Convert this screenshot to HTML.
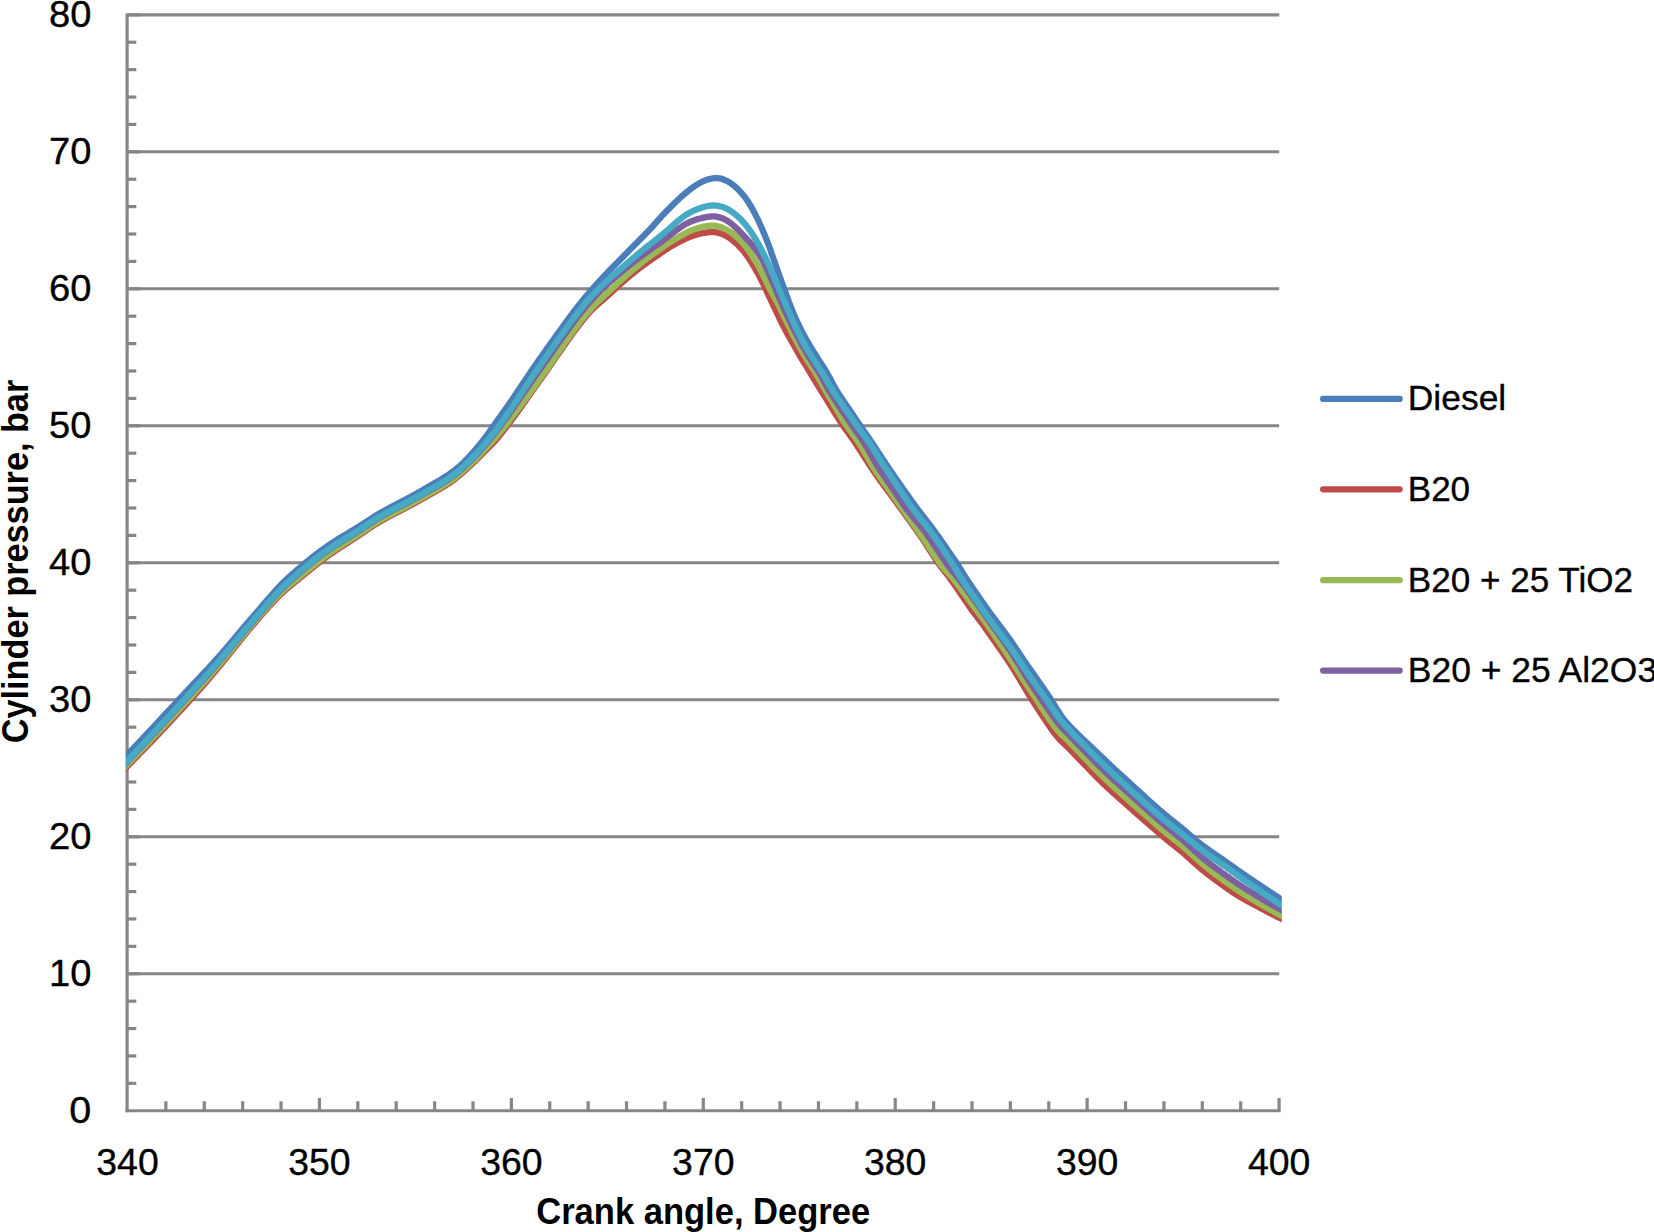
<!DOCTYPE html><html><head><meta charset="utf-8"><title>Cylinder pressure vs crank angle</title>
<style>html,body{margin:0;padding:0;background:#fff}svg{display:block}text{font-family:"Liberation Sans",sans-serif;fill:#000}text.r{stroke:#000;stroke-width:.35px}</style></head><body>
<svg width="1654" height="1232" viewBox="0 0 1654 1232">
<rect width="1654" height="1232" fill="#fff"/>
<defs><clipPath id="pc"><rect x="126" y="0" width="1155.8" height="1112"/></clipPath></defs>
<g stroke="#868686" stroke-width="3.1" fill="none"><line x1="127.1" y1="973.76" x2="1279.2" y2="973.76"/><line x1="127.1" y1="836.77" x2="1279.2" y2="836.77"/><line x1="127.1" y1="699.78" x2="1279.2" y2="699.78"/><line x1="127.1" y1="562.79" x2="1279.2" y2="562.79"/><line x1="127.1" y1="425.80" x2="1279.2" y2="425.80"/><line x1="127.1" y1="288.81" x2="1279.2" y2="288.81"/><line x1="127.1" y1="151.82" x2="1279.2" y2="151.82"/><line x1="127.1" y1="14.83" x2="1279.2" y2="14.83"/></g>
<g stroke="#868686" stroke-width="3.2" fill="none"><line x1="127.10" y1="13.38" x2="127.10" y2="1112.25"/><line x1="125.60" y1="1110.75" x2="1280.6" y2="1110.75"/><line x1="127.1" y1="1083.35" x2="136.3" y2="1083.35"/><line x1="127.1" y1="1055.95" x2="136.3" y2="1055.95"/><line x1="127.1" y1="1028.56" x2="136.3" y2="1028.56"/><line x1="127.1" y1="1001.16" x2="136.3" y2="1001.16"/><line x1="127.1" y1="973.76" x2="139.8" y2="973.76"/><line x1="127.1" y1="946.36" x2="136.3" y2="946.36"/><line x1="127.1" y1="918.96" x2="136.3" y2="918.96"/><line x1="127.1" y1="891.57" x2="136.3" y2="891.57"/><line x1="127.1" y1="864.17" x2="136.3" y2="864.17"/><line x1="127.1" y1="836.77" x2="139.8" y2="836.77"/><line x1="127.1" y1="809.37" x2="136.3" y2="809.37"/><line x1="127.1" y1="781.97" x2="136.3" y2="781.97"/><line x1="127.1" y1="754.58" x2="136.3" y2="754.58"/><line x1="127.1" y1="727.18" x2="136.3" y2="727.18"/><line x1="127.1" y1="699.78" x2="139.8" y2="699.78"/><line x1="127.1" y1="672.38" x2="136.3" y2="672.38"/><line x1="127.1" y1="644.98" x2="136.3" y2="644.98"/><line x1="127.1" y1="617.59" x2="136.3" y2="617.59"/><line x1="127.1" y1="590.19" x2="136.3" y2="590.19"/><line x1="127.1" y1="562.79" x2="139.8" y2="562.79"/><line x1="127.1" y1="535.39" x2="136.3" y2="535.39"/><line x1="127.1" y1="507.99" x2="136.3" y2="507.99"/><line x1="127.1" y1="480.60" x2="136.3" y2="480.60"/><line x1="127.1" y1="453.20" x2="136.3" y2="453.20"/><line x1="127.1" y1="425.80" x2="139.8" y2="425.80"/><line x1="127.1" y1="398.40" x2="136.3" y2="398.40"/><line x1="127.1" y1="371.00" x2="136.3" y2="371.00"/><line x1="127.1" y1="343.61" x2="136.3" y2="343.61"/><line x1="127.1" y1="316.21" x2="136.3" y2="316.21"/><line x1="127.1" y1="288.81" x2="139.8" y2="288.81"/><line x1="127.1" y1="261.41" x2="136.3" y2="261.41"/><line x1="127.1" y1="234.01" x2="136.3" y2="234.01"/><line x1="127.1" y1="206.62" x2="136.3" y2="206.62"/><line x1="127.1" y1="179.22" x2="136.3" y2="179.22"/><line x1="127.1" y1="151.82" x2="139.8" y2="151.82"/><line x1="127.1" y1="124.42" x2="136.3" y2="124.42"/><line x1="127.1" y1="97.02" x2="136.3" y2="97.02"/><line x1="127.1" y1="69.63" x2="136.3" y2="69.63"/><line x1="127.1" y1="42.23" x2="136.3" y2="42.23"/><line x1="127.1" y1="14.83" x2="139.8" y2="14.83"/><line x1="165.89" y1="1110.75" x2="165.89" y2="1101.25"/><line x1="204.27" y1="1110.75" x2="204.27" y2="1101.25"/><line x1="242.66" y1="1110.75" x2="242.66" y2="1101.25"/><line x1="281.04" y1="1110.75" x2="281.04" y2="1101.25"/><line x1="319.43" y1="1110.75" x2="319.43" y2="1098.05"/><line x1="357.82" y1="1110.75" x2="357.82" y2="1101.25"/><line x1="396.20" y1="1110.75" x2="396.20" y2="1101.25"/><line x1="434.59" y1="1110.75" x2="434.59" y2="1101.25"/><line x1="472.97" y1="1110.75" x2="472.97" y2="1101.25"/><line x1="511.36" y1="1110.75" x2="511.36" y2="1098.05"/><line x1="549.75" y1="1110.75" x2="549.75" y2="1101.25"/><line x1="588.13" y1="1110.75" x2="588.13" y2="1101.25"/><line x1="626.52" y1="1110.75" x2="626.52" y2="1101.25"/><line x1="664.90" y1="1110.75" x2="664.90" y2="1101.25"/><line x1="703.29" y1="1110.75" x2="703.29" y2="1098.05"/><line x1="741.68" y1="1110.75" x2="741.68" y2="1101.25"/><line x1="780.06" y1="1110.75" x2="780.06" y2="1101.25"/><line x1="818.45" y1="1110.75" x2="818.45" y2="1101.25"/><line x1="856.83" y1="1110.75" x2="856.83" y2="1101.25"/><line x1="895.22" y1="1110.75" x2="895.22" y2="1098.05"/><line x1="933.61" y1="1110.75" x2="933.61" y2="1101.25"/><line x1="971.99" y1="1110.75" x2="971.99" y2="1101.25"/><line x1="1010.38" y1="1110.75" x2="1010.38" y2="1101.25"/><line x1="1048.76" y1="1110.75" x2="1048.76" y2="1101.25"/><line x1="1087.15" y1="1110.75" x2="1087.15" y2="1098.05"/><line x1="1125.54" y1="1110.75" x2="1125.54" y2="1101.25"/><line x1="1163.92" y1="1110.75" x2="1163.92" y2="1101.25"/><line x1="1202.31" y1="1110.75" x2="1202.31" y2="1101.25"/><line x1="1240.69" y1="1110.75" x2="1240.69" y2="1101.25"/><line x1="1279.08" y1="1110.75" x2="1279.08" y2="1098.05"/></g>
<g clip-path="url(#pc)" fill="none" stroke-width="6.3" stroke-linejoin="round" stroke-linecap="butt"><path d="M121.2 761.6 L122.4 760.3 L123.5 759.1 L124.7 757.8 L125.8 756.6 L127.0 755.3 L128.2 754.1 L129.3 752.8 L130.5 751.6 L131.6 750.3 L132.8 749.1 L133.9 747.8 L135.1 746.6 L136.2 745.4 L137.4 744.1 L138.5 742.9 L139.7 741.7 L140.8 740.4 L142.0 739.2 L143.1 738.0 L144.3 736.7 L145.5 735.5 L146.6 734.3 L147.8 733.1 L148.9 731.8 L150.1 730.6 L151.2 729.4 L152.4 728.1 L153.5 726.9 L154.7 725.7 L155.8 724.4 L157.0 723.2 L158.1 722.0 L159.3 720.8 L160.4 719.5 L161.6 718.3 L162.7 717.0 L163.9 715.8 L165.1 714.6 L166.2 713.3 L167.4 712.1 L168.5 710.8 L169.7 709.6 L170.8 708.4 L172.0 707.1 L173.1 705.9 L174.3 704.6 L175.4 703.4 L176.6 702.1 L177.7 700.9 L178.9 699.6 L180.0 698.4 L181.2 697.1 L182.4 695.9 L183.5 694.7 L184.7 693.4 L185.8 692.2 L187.0 690.9 L188.1 689.7 L189.3 688.5 L190.4 687.3 L191.6 686.0 L192.7 684.8 L193.9 683.6 L195.0 682.4 L196.2 681.2 L197.3 679.9 L198.5 678.7 L199.7 677.5 L200.8 676.3 L202.0 675.1 L203.1 673.8 L204.3 672.6 L205.4 671.4 L206.6 670.1 L207.7 668.9 L208.9 667.7 L210.0 666.4 L211.2 665.1 L212.3 663.9 L213.5 662.6 L214.6 661.3 L215.8 660.1 L216.9 658.8 L218.1 657.5 L219.3 656.2 L220.4 654.9 L221.6 653.6 L222.7 652.2 L223.9 650.9 L225.0 649.6 L226.2 648.2 L227.3 646.9 L228.5 645.5 L229.6 644.1 L230.8 642.8 L231.9 641.4 L233.1 640.0 L234.2 638.7 L235.4 637.3 L236.6 635.9 L237.7 634.5 L238.9 633.2 L240.0 631.8 L241.2 630.4 L242.3 629.1 L243.5 627.7 L244.6 626.4 L245.8 625.0 L246.9 623.7 L248.1 622.4 L249.2 621.0 L250.4 619.7 L251.5 618.3 L252.7 617.0 L253.9 615.7 L255.0 614.3 L256.2 613.0 L257.3 611.6 L258.5 610.3 L259.6 609.0 L260.8 607.6 L261.9 606.3 L263.1 604.9 L264.2 603.6 L265.4 602.2 L266.5 600.9 L267.7 599.5 L268.8 598.2 L270.0 596.9 L271.2 595.6 L272.3 594.3 L273.5 593.0 L274.6 591.7 L275.8 590.4 L276.9 589.1 L278.1 587.9 L279.2 586.7 L280.4 585.5 L281.5 584.3 L282.7 583.1 L283.8 582.0 L285.0 580.9 L286.1 579.8 L287.3 578.7 L288.4 577.6 L289.6 576.6 L290.8 575.6 L291.9 574.5 L293.1 573.5 L294.2 572.5 L295.4 571.5 L296.5 570.5 L297.7 569.5 L298.8 568.5 L300.0 567.6 L301.1 566.6 L302.3 565.6 L303.4 564.6 L304.6 563.7 L305.7 562.7 L306.9 561.7 L308.1 560.8 L309.2 559.8 L310.4 558.9 L311.5 558.0 L312.7 557.0 L313.8 556.1 L315.0 555.2 L316.1 554.3 L317.3 553.4 L318.4 552.6 L319.6 551.7 L320.7 550.8 L321.9 550.0 L323.0 549.2 L324.2 548.3 L325.4 547.5 L326.5 546.7 L327.7 545.9 L328.8 545.1 L330.0 544.4 L331.1 543.6 L332.3 542.8 L333.4 542.1 L334.6 541.3 L335.7 540.6 L336.9 539.9 L338.0 539.1 L339.2 538.4 L340.3 537.7 L341.5 537.0 L342.6 536.3 L343.8 535.6 L345.0 534.9 L346.1 534.3 L347.3 533.6 L348.4 532.9 L349.6 532.2 L350.7 531.5 L351.9 530.8 L353.0 530.1 L354.2 529.4 L355.3 528.7 L356.5 528.0 L357.6 527.3 L358.8 526.5 L359.9 525.8 L361.1 525.1 L362.3 524.3 L363.4 523.6 L364.6 522.8 L365.7 522.1 L366.9 521.3 L368.0 520.6 L369.2 519.8 L370.3 519.1 L371.5 518.3 L372.6 517.6 L373.8 516.9 L374.9 516.1 L376.1 515.4 L377.2 514.7 L378.4 514.0 L379.6 513.4 L380.7 512.7 L381.9 512.0 L383.0 511.4 L384.2 510.7 L385.3 510.1 L386.5 509.5 L387.6 508.9 L388.8 508.2 L389.9 507.6 L391.1 507.0 L392.2 506.4 L393.4 505.8 L394.5 505.2 L395.7 504.6 L396.8 504.0 L398.0 503.4 L399.2 502.8 L400.3 502.2 L401.5 501.6 L402.6 501.0 L403.8 500.4 L404.9 499.8 L406.1 499.2 L407.2 498.6 L408.4 497.9 L409.5 497.3 L410.7 496.7 L411.8 496.1 L413.0 495.5 L414.1 494.8 L415.3 494.2 L416.5 493.6 L417.6 492.9 L418.8 492.3 L419.9 491.6 L421.1 491.0 L422.2 490.3 L423.4 489.7 L424.5 489.0 L425.7 488.3 L426.8 487.7 L428.0 487.0 L429.1 486.3 L430.3 485.7 L431.4 485.0 L432.6 484.3 L433.8 483.7 L434.9 483.0 L436.1 482.3 L437.2 481.7 L438.4 481.0 L439.5 480.3 L440.7 479.6 L441.8 478.9 L443.0 478.2 L444.1 477.5 L445.3 476.8 L446.4 476.1 L447.6 475.3 L448.7 474.5 L449.9 473.8 L451.0 472.9 L452.2 472.1 L453.4 471.2 L454.5 470.4 L455.7 469.4 L456.8 468.5 L458.0 467.5 L459.1 466.6 L460.3 465.6 L461.4 464.5 L462.6 463.4 L463.7 462.3 L464.9 461.2 L466.0 460.0 L467.2 458.8 L468.3 457.6 L469.5 456.4 L470.7 455.1 L471.8 453.8 L473.0 452.5 L474.1 451.2 L475.3 449.9 L476.4 448.5 L477.6 447.2 L478.7 445.8 L479.9 444.4 L481.0 443.0 L482.2 441.5 L483.3 440.0 L484.5 438.5 L485.6 437.0 L486.8 435.4 L488.0 433.8 L489.1 432.2 L490.3 430.6 L491.4 428.9 L492.6 427.3 L493.7 425.7 L494.9 424.0 L496.0 422.4 L497.2 420.8 L498.3 419.2 L499.5 417.6 L500.6 416.1 L501.8 414.5 L502.9 412.8 L504.1 411.2 L505.2 409.6 L506.4 408.0 L507.6 406.3 L508.7 404.6 L509.9 403.0 L511.0 401.3 L512.2 399.6 L513.3 397.9 L514.5 396.2 L515.6 394.5 L516.8 392.7 L517.9 391.0 L519.1 389.3 L520.2 387.6 L521.4 385.8 L522.5 384.1 L523.7 382.4 L524.9 380.7 L526.0 378.9 L527.2 377.2 L528.3 375.5 L529.5 373.8 L530.6 372.1 L531.8 370.4 L532.9 368.7 L534.1 367.1 L535.2 365.4 L536.4 363.7 L537.5 362.1 L538.7 360.4 L539.8 358.8 L541.0 357.2 L542.2 355.5 L543.3 353.9 L544.5 352.3 L545.6 350.6 L546.8 349.0 L547.9 347.4 L549.1 345.8 L550.2 344.1 L551.4 342.5 L552.5 340.9 L553.7 339.3 L554.8 337.7 L556.0 336.1 L557.1 334.5 L558.3 332.9 L559.5 331.3 L560.6 329.7 L561.8 328.1 L562.9 326.5 L564.1 324.9 L565.2 323.3 L566.4 321.7 L567.5 320.2 L568.7 318.6 L569.8 317.1 L571.0 315.5 L572.1 314.0 L573.3 312.4 L574.4 310.9 L575.6 309.4 L576.7 307.9 L577.9 306.4 L579.1 305.0 L580.2 303.5 L581.4 302.1 L582.5 300.6 L583.7 299.2 L584.8 297.8 L586.0 296.5 L587.1 295.1 L588.3 293.8 L589.4 292.5 L590.6 291.2 L591.7 289.8 L592.9 288.5 L594.0 287.2 L595.2 285.9 L596.4 284.6 L597.5 283.3 L598.7 282.0 L599.8 280.8 L601.0 279.5 L602.1 278.3 L603.3 277.0 L604.4 275.8 L605.6 274.6 L606.7 273.4 L607.9 272.2 L609.0 271.0 L610.2 269.8 L611.3 268.6 L612.5 267.4 L613.7 266.3 L614.8 265.1 L616.0 263.9 L617.1 262.7 L618.3 261.6 L619.4 260.4 L620.6 259.2 L621.7 258.1 L622.9 256.9 L624.0 255.7 L625.2 254.5 L626.3 253.4 L627.5 252.2 L628.6 251.0 L629.8 249.9 L630.9 248.7 L632.1 247.5 L633.3 246.4 L634.4 245.2 L635.6 244.0 L636.7 242.9 L637.9 241.7 L639.0 240.5 L640.2 239.4 L641.3 238.2 L642.5 237.0 L643.6 235.9 L644.8 234.7 L645.9 233.5 L647.1 232.3 L648.2 231.1 L649.4 229.9 L650.6 228.7 L651.7 227.4 L652.9 226.1 L654.0 224.8 L655.2 223.5 L656.3 222.2 L657.5 220.9 L658.6 219.6 L659.8 218.4 L660.9 217.1 L662.1 215.8 L663.2 214.6 L664.4 213.4 L665.5 212.2 L666.7 211.0 L667.9 209.8 L669.0 208.7 L670.2 207.5 L671.3 206.3 L672.5 205.2 L673.6 204.0 L674.8 202.9 L675.9 201.8 L677.1 200.7 L678.2 199.6 L679.4 198.5 L680.5 197.5 L681.7 196.4 L682.8 195.4 L684.0 194.4 L685.1 193.4 L686.3 192.5 L687.5 191.5 L688.6 190.6 L689.8 189.7 L690.9 188.8 L692.1 188.0 L693.2 187.1 L694.4 186.3 L695.5 185.5 L696.7 184.8 L697.8 184.1 L699.0 183.4 L700.1 182.8 L701.3 182.2 L702.4 181.6 L703.6 181.1 L704.8 180.6 L705.9 180.2 L707.1 179.7 L708.2 179.4 L709.4 179.0 L710.5 178.8 L711.7 178.5 L712.8 178.3 L714.0 178.2 L715.1 178.1 L716.3 178.1 L717.4 178.2 L718.6 178.3 L719.7 178.4 L720.9 178.6 L722.1 178.9 L723.2 179.3 L724.4 179.8 L725.5 180.3 L726.7 180.8 L727.8 181.4 L729.0 182.1 L730.1 182.9 L731.3 183.6 L732.4 184.5 L733.6 185.4 L734.7 186.3 L735.9 187.4 L737.0 188.4 L738.2 189.5 L739.3 190.7 L740.5 192.0 L741.7 193.2 L742.8 194.6 L744.0 196.0 L745.1 197.5 L746.3 199.1 L747.4 200.8 L748.6 202.6 L749.7 204.4 L750.9 206.3 L752.0 208.3 L753.2 210.4 L754.3 212.5 L755.5 214.8 L756.6 217.1 L757.8 219.4 L759.0 221.9 L760.1 224.4 L761.3 227.0 L762.4 229.6 L763.6 232.4 L764.7 235.1 L765.9 238.0 L767.0 240.9 L768.2 243.9 L769.3 247.0 L770.5 250.2 L771.6 253.5 L772.8 256.8 L773.9 260.1 L775.1 263.4 L776.3 266.7 L777.4 270.0 L778.6 273.2 L779.7 276.5 L780.9 279.7 L782.0 282.9 L783.2 286.1 L784.3 289.3 L785.5 292.5 L786.6 295.6 L787.8 298.7 L788.9 301.8 L790.1 304.8 L791.2 307.8 L792.4 310.7 L793.5 313.5 L794.7 316.3 L795.9 318.9 L797.0 321.4 L798.2 323.9 L799.3 326.3 L800.5 328.6 L801.6 330.9 L802.8 333.1 L803.9 335.3 L805.1 337.4 L806.2 339.4 L807.4 341.5 L808.5 343.4 L809.7 345.4 L810.8 347.3 L812.0 349.2 L813.2 351.1 L814.3 352.9 L815.5 354.8 L816.6 356.6 L817.8 358.4 L818.9 360.2 L820.1 362.0 L821.2 363.8 L822.4 365.6 L823.5 367.3 L824.7 369.1 L825.8 371.0 L827.0 372.9 L828.1 374.9 L829.3 377.0 L830.5 379.2 L831.6 381.4 L832.8 383.6 L833.9 385.8 L835.1 387.9 L836.2 389.9 L837.4 391.8 L838.5 393.5 L839.7 395.2 L840.8 397.0 L842.0 398.7 L843.1 400.4 L844.3 402.1 L845.4 403.8 L846.6 405.5 L847.8 407.2 L848.9 408.9 L850.1 410.6 L851.2 412.3 L852.4 414.0 L853.5 415.7 L854.7 417.4 L855.8 419.2 L857.0 420.9 L858.1 422.6 L859.3 424.3 L860.4 426.0 L861.6 427.7 L862.7 429.3 L863.9 431.0 L865.0 432.6 L866.2 434.3 L867.4 435.9 L868.5 437.6 L869.7 439.3 L870.8 441.0 L872.0 442.7 L873.1 444.4 L874.3 446.2 L875.4 447.9 L876.6 449.7 L877.7 451.4 L878.9 453.2 L880.0 454.9 L881.2 456.7 L882.3 458.5 L883.5 460.2 L884.7 462.0 L885.8 463.7 L887.0 465.4 L888.1 467.2 L889.3 468.9 L890.4 470.6 L891.6 472.3 L892.7 474.0 L893.9 475.6 L895.0 477.3 L896.2 479.0 L897.3 480.6 L898.5 482.3 L899.6 484.0 L900.8 485.6 L902.0 487.3 L903.1 488.9 L904.3 490.5 L905.4 492.2 L906.6 493.8 L907.7 495.4 L908.9 497.1 L910.0 498.7 L911.2 500.3 L912.3 501.9 L913.5 503.5 L914.6 505.1 L915.8 506.7 L916.9 508.2 L918.1 509.8 L919.2 511.3 L920.4 512.8 L921.6 514.3 L922.7 515.8 L923.9 517.2 L925.0 518.7 L926.2 520.2 L927.3 521.7 L928.5 523.2 L929.6 524.7 L930.8 526.2 L931.9 527.7 L933.1 529.3 L934.2 530.9 L935.4 532.4 L936.5 534.0 L937.7 535.7 L938.9 537.3 L940.0 539.0 L941.2 540.6 L942.3 542.3 L943.5 543.9 L944.6 545.6 L945.8 547.2 L946.9 548.9 L948.1 550.6 L949.2 552.2 L950.4 553.9 L951.5 555.6 L952.7 557.3 L953.8 559.0 L955.0 560.6 L956.2 562.3 L957.3 564.0 L958.5 565.8 L959.6 567.7 L960.8 569.6 L961.9 571.5 L963.1 573.4 L964.2 575.3 L965.4 577.1 L966.5 578.9 L967.7 580.6 L968.8 582.3 L970.0 584.0 L971.1 585.7 L972.3 587.4 L973.4 589.1 L974.6 590.8 L975.8 592.5 L976.9 594.1 L978.1 595.8 L979.2 597.5 L980.4 599.1 L981.5 600.8 L982.7 602.5 L983.8 604.1 L985.0 605.8 L986.1 607.4 L987.3 609.0 L988.4 610.6 L989.6 612.2 L990.7 613.8 L991.9 615.4 L993.1 617.0 L994.2 618.5 L995.4 620.0 L996.5 621.6 L997.7 623.1 L998.8 624.6 L1000.0 626.2 L1001.1 627.7 L1002.3 629.2 L1003.4 630.7 L1004.6 632.3 L1005.7 633.9 L1006.9 635.4 L1008.0 637.0 L1009.2 638.6 L1010.4 640.2 L1011.5 641.9 L1012.7 643.6 L1013.8 645.2 L1015.0 647.0 L1016.1 648.7 L1017.3 650.4 L1018.4 652.1 L1019.6 653.8 L1020.7 655.5 L1021.9 657.2 L1023.0 659.0 L1024.2 660.7 L1025.3 662.4 L1026.5 664.1 L1027.6 665.8 L1028.8 667.4 L1030.0 669.1 L1031.1 670.7 L1032.3 672.4 L1033.4 674.0 L1034.6 675.6 L1035.7 677.3 L1036.9 678.9 L1038.0 680.5 L1039.2 682.2 L1040.3 683.8 L1041.5 685.5 L1042.6 687.1 L1043.8 688.8 L1044.9 690.5 L1046.1 692.2 L1047.3 693.9 L1048.4 695.6 L1049.6 697.4 L1050.7 699.2 L1051.9 701.0 L1053.0 702.9 L1054.2 704.7 L1055.3 706.6 L1056.5 708.5 L1057.6 710.3 L1058.8 712.1 L1059.9 713.8 L1061.1 715.5 L1062.2 717.1 L1063.4 718.6 L1064.6 720.1 L1065.7 721.5 L1066.9 722.9 L1068.0 724.2 L1069.2 725.4 L1070.3 726.7 L1071.5 727.9 L1072.6 729.1 L1073.8 730.2 L1074.9 731.4 L1076.1 732.5 L1077.2 733.7 L1078.4 734.8 L1079.5 735.9 L1080.7 737.0 L1081.8 738.1 L1083.0 739.2 L1084.2 740.3 L1085.3 741.4 L1086.5 742.4 L1087.6 743.5 L1088.8 744.6 L1089.9 745.7 L1091.1 746.8 L1092.2 747.9 L1093.4 749.0 L1094.5 750.1 L1095.7 751.2 L1096.8 752.3 L1098.0 753.4 L1099.1 754.5 L1100.3 755.6 L1101.5 756.7 L1102.6 757.8 L1103.8 758.9 L1104.9 760.0 L1106.1 761.1 L1107.2 762.2 L1108.4 763.3 L1109.5 764.4 L1110.7 765.5 L1111.8 766.5 L1113.0 767.6 L1114.1 768.7 L1115.3 769.8 L1116.4 770.8 L1117.6 771.9 L1118.8 773.0 L1119.9 774.0 L1121.1 775.1 L1122.2 776.1 L1123.4 777.2 L1124.5 778.2 L1125.7 779.3 L1126.8 780.3 L1128.0 781.4 L1129.1 782.4 L1130.3 783.5 L1131.4 784.5 L1132.6 785.6 L1133.7 786.6 L1134.9 787.7 L1136.1 788.8 L1137.2 789.8 L1138.4 790.9 L1139.5 791.9 L1140.7 793.0 L1141.8 794.0 L1143.0 795.1 L1144.1 796.1 L1145.3 797.2 L1146.4 798.3 L1147.6 799.3 L1148.7 800.4 L1149.9 801.4 L1151.0 802.5 L1152.2 803.5 L1153.3 804.5 L1154.5 805.5 L1155.7 806.6 L1156.8 807.6 L1158.0 808.6 L1159.1 809.6 L1160.3 810.6 L1161.4 811.6 L1162.6 812.5 L1163.7 813.5 L1164.9 814.5 L1166.0 815.4 L1167.2 816.4 L1168.3 817.3 L1169.5 818.2 L1170.6 819.2 L1171.8 820.1 L1173.0 821.0 L1174.1 821.9 L1175.3 822.9 L1176.4 823.8 L1177.6 824.7 L1178.7 825.6 L1179.9 826.6 L1181.0 827.5 L1182.2 828.5 L1183.3 829.4 L1184.5 830.4 L1185.6 831.4 L1186.8 832.4 L1187.9 833.4 L1189.1 834.4 L1190.3 835.4 L1191.4 836.4 L1192.6 837.4 L1193.7 838.4 L1194.9 839.3 L1196.0 840.2 L1197.2 841.2 L1198.3 842.1 L1199.5 843.0 L1200.6 843.9 L1201.8 844.8 L1202.9 845.7 L1204.1 846.6 L1205.2 847.4 L1206.4 848.2 L1207.5 849.1 L1208.7 849.9 L1209.9 850.7 L1211.0 851.5 L1212.2 852.3 L1213.3 853.1 L1214.5 853.9 L1215.6 854.7 L1216.8 855.5 L1217.9 856.2 L1219.1 857.0 L1220.2 857.8 L1221.4 858.6 L1222.5 859.4 L1223.7 860.2 L1224.8 861.0 L1226.0 861.8 L1227.2 862.6 L1228.3 863.5 L1229.5 864.3 L1230.6 865.1 L1231.8 865.9 L1232.9 866.7 L1234.1 867.6 L1235.2 868.4 L1236.4 869.2 L1237.5 870.0 L1238.7 870.8 L1239.8 871.6 L1241.0 872.4 L1242.1 873.2 L1243.3 874.0 L1244.5 874.8 L1245.6 875.6 L1246.8 876.4 L1247.9 877.2 L1249.1 878.0 L1250.2 878.8 L1251.4 879.5 L1252.5 880.3 L1253.7 881.1 L1254.8 881.9 L1256.0 882.6 L1257.1 883.4 L1258.3 884.2 L1259.4 884.9 L1260.6 885.7 L1261.7 886.5 L1262.9 887.2 L1264.1 888.0 L1265.2 888.8 L1266.4 889.5 L1267.5 890.3 L1268.7 891.1 L1269.8 891.8 L1271.0 892.6 L1272.1 893.4 L1273.3 894.1 L1274.4 894.9 L1275.6 895.6 L1276.7 896.4 L1277.9 897.1 L1279.0 897.8 L1280.2 898.6 L1281.4 899.3 L1282.5 900.1 L1283.7 900.8 L1284.8 901.6 L1286.0 902.3 L1287.1 903.0 L1288.3 903.8" stroke="#4a7ebb"/><path d="M121.2 772.8 L122.4 771.6 L123.5 770.3 L124.7 769.1 L125.8 767.8 L127.0 766.5 L128.2 765.4 L129.3 764.2 L130.5 763.0 L131.6 761.9 L132.8 760.7 L133.9 759.5 L135.1 758.3 L136.2 757.2 L137.4 756.0 L138.5 754.8 L139.7 753.6 L140.8 752.4 L142.0 751.3 L143.1 750.1 L144.3 748.9 L145.5 747.7 L146.6 746.5 L147.8 745.3 L148.9 744.1 L150.1 742.9 L151.2 741.8 L152.4 740.6 L153.5 739.4 L154.7 738.2 L155.8 736.9 L157.0 735.7 L158.1 734.5 L159.3 733.3 L160.4 732.1 L161.6 730.9 L162.7 729.7 L163.9 728.4 L165.1 727.2 L166.2 726.0 L167.4 724.7 L168.5 723.5 L169.7 722.3 L170.8 721.0 L172.0 719.8 L173.1 718.5 L174.3 717.3 L175.4 716.0 L176.6 714.8 L177.7 713.5 L178.9 712.3 L180.0 711.0 L181.2 709.8 L182.4 708.5 L183.5 707.3 L184.7 706.0 L185.8 704.8 L187.0 703.5 L188.1 702.2 L189.3 701.0 L190.4 699.7 L191.6 698.4 L192.7 697.2 L193.9 695.9 L195.0 694.6 L196.2 693.3 L197.3 692.0 L198.5 690.7 L199.7 689.4 L200.8 688.1 L202.0 686.8 L203.1 685.5 L204.3 684.1 L205.4 682.8 L206.6 681.5 L207.7 680.1 L208.9 678.8 L210.0 677.4 L211.2 676.1 L212.3 674.7 L213.5 673.3 L214.6 672.0 L215.8 670.6 L216.9 669.2 L218.1 667.8 L219.3 666.4 L220.4 665.0 L221.6 663.6 L222.7 662.2 L223.9 660.8 L225.0 659.4 L226.2 658.0 L227.3 656.5 L228.5 655.1 L229.6 653.7 L230.8 652.3 L231.9 650.8 L233.1 649.4 L234.2 647.9 L235.4 646.5 L236.6 645.0 L237.7 643.6 L238.9 642.2 L240.0 640.7 L241.2 639.3 L242.3 637.9 L243.5 636.4 L244.6 635.0 L245.8 633.6 L246.9 632.2 L248.1 630.8 L249.2 629.4 L250.4 628.0 L251.5 626.7 L252.7 625.3 L253.9 623.9 L255.0 622.6 L256.2 621.2 L257.3 619.9 L258.5 618.5 L259.6 617.2 L260.8 615.9 L261.9 614.5 L263.1 613.2 L264.2 611.9 L265.4 610.6 L266.5 609.3 L267.7 608.0 L268.8 606.7 L270.0 605.4 L271.2 604.2 L272.3 602.9 L273.5 601.7 L274.6 600.5 L275.8 599.3 L276.9 598.1 L278.1 596.9 L279.2 595.8 L280.4 594.6 L281.5 593.5 L282.7 592.5 L283.8 591.4 L285.0 590.4 L286.1 589.3 L287.3 588.3 L288.4 587.3 L289.6 586.4 L290.8 585.4 L291.9 584.4 L293.1 583.5 L294.2 582.6 L295.4 581.6 L296.5 580.7 L297.7 579.8 L298.8 578.8 L300.0 577.9 L301.1 577.0 L302.3 576.0 L303.4 575.1 L304.6 574.2 L305.7 573.2 L306.9 572.3 L308.1 571.3 L309.2 570.4 L310.4 569.5 L311.5 568.5 L312.7 567.6 L313.8 566.7 L315.0 565.7 L316.1 564.8 L317.3 563.9 L318.4 563.0 L319.6 562.1 L320.7 561.2 L321.9 560.4 L323.0 559.5 L324.2 558.6 L325.4 557.8 L326.5 557.0 L327.7 556.1 L328.8 555.3 L330.0 554.5 L331.1 553.7 L332.3 552.9 L333.4 552.1 L334.6 551.3 L335.7 550.5 L336.9 549.7 L338.0 549.0 L339.2 548.2 L340.3 547.4 L341.5 546.7 L342.6 546.0 L343.8 545.2 L345.0 544.5 L346.1 543.7 L347.3 543.0 L348.4 542.3 L349.6 541.5 L350.7 540.8 L351.9 540.0 L353.0 539.3 L354.2 538.5 L355.3 537.8 L356.5 537.0 L357.6 536.3 L358.8 535.5 L359.9 534.7 L361.1 533.9 L362.3 533.1 L363.4 532.4 L364.6 531.6 L365.7 530.8 L366.9 530.0 L368.0 529.2 L369.2 528.4 L370.3 527.7 L371.5 526.9 L372.6 526.2 L373.8 525.4 L374.9 524.7 L376.1 523.9 L377.2 523.2 L378.4 522.5 L379.6 521.9 L380.7 521.2 L381.9 520.5 L383.0 519.9 L384.2 519.2 L385.3 518.6 L386.5 518.0 L387.6 517.3 L388.8 516.7 L389.9 516.1 L391.1 515.5 L392.2 514.9 L393.4 514.3 L394.5 513.7 L395.7 513.1 L396.8 512.5 L398.0 511.9 L399.2 511.3 L400.3 510.7 L401.5 510.1 L402.6 509.5 L403.8 508.9 L404.9 508.3 L406.1 507.7 L407.2 507.1 L408.4 506.5 L409.5 505.9 L410.7 505.3 L411.8 504.7 L413.0 504.0 L414.1 503.4 L415.3 502.8 L416.5 502.1 L417.6 501.5 L418.8 500.9 L419.9 500.2 L421.1 499.6 L422.2 498.9 L423.4 498.3 L424.5 497.6 L425.7 497.0 L426.8 496.3 L428.0 495.7 L429.1 495.0 L430.3 494.4 L431.4 493.7 L432.6 493.1 L433.8 492.4 L434.9 491.7 L436.1 491.1 L437.2 490.4 L438.4 489.8 L439.5 489.1 L440.7 488.4 L441.8 487.8 L443.0 487.1 L444.1 486.4 L445.3 485.7 L446.4 484.9 L447.6 484.2 L448.7 483.4 L449.9 482.7 L451.0 481.9 L452.2 481.0 L453.4 480.2 L454.5 479.3 L455.7 478.4 L456.8 477.5 L458.0 476.6 L459.1 475.6 L460.3 474.6 L461.4 473.6 L462.6 472.6 L463.7 471.6 L464.9 470.6 L466.0 469.5 L467.2 468.5 L468.3 467.4 L469.5 466.4 L470.7 465.3 L471.8 464.2 L473.0 463.1 L474.1 462.0 L475.3 460.9 L476.4 459.7 L477.6 458.6 L478.7 457.5 L479.9 456.3 L481.0 455.1 L482.2 453.9 L483.3 452.8 L484.5 451.6 L485.6 450.5 L486.8 449.3 L488.0 448.2 L489.1 447.1 L490.3 445.9 L491.4 444.7 L492.6 443.5 L493.7 442.3 L494.9 441.0 L496.0 439.8 L497.2 438.4 L498.3 437.1 L499.5 435.7 L500.6 434.2 L501.8 432.8 L502.9 431.3 L504.1 429.9 L505.2 428.4 L506.4 426.9 L507.6 425.4 L508.7 423.9 L509.9 422.4 L511.0 420.8 L512.2 419.3 L513.3 417.7 L514.5 416.1 L515.6 414.5 L516.8 412.9 L517.9 411.3 L519.1 409.7 L520.2 408.1 L521.4 406.5 L522.5 404.8 L523.7 403.2 L524.9 401.6 L526.0 400.0 L527.2 398.3 L528.3 396.7 L529.5 395.1 L530.6 393.4 L531.8 391.8 L532.9 390.2 L534.1 388.6 L535.2 386.9 L536.4 385.3 L537.5 383.7 L538.7 382.1 L539.8 380.4 L541.0 378.8 L542.2 377.2 L543.3 375.5 L544.5 373.9 L545.6 372.3 L546.8 370.6 L547.9 369.0 L549.1 367.3 L550.2 365.6 L551.4 364.0 L552.5 362.3 L553.7 360.7 L554.8 359.0 L556.0 357.3 L557.1 355.7 L558.3 354.0 L559.5 352.3 L560.6 350.7 L561.8 349.0 L562.9 347.4 L564.1 345.7 L565.2 344.1 L566.4 342.4 L567.5 340.8 L568.7 339.2 L569.8 337.5 L571.0 335.9 L572.1 334.3 L573.3 332.7 L574.4 331.2 L575.6 329.6 L576.7 328.1 L577.9 326.5 L579.1 325.0 L580.2 323.5 L581.4 322.0 L582.5 320.6 L583.7 319.1 L584.8 317.7 L586.0 316.3 L587.1 315.0 L588.3 313.7 L589.4 312.4 L590.6 311.1 L591.7 309.9 L592.9 308.8 L594.0 307.7 L595.2 306.6 L596.4 305.6 L597.5 304.5 L598.7 303.5 L599.8 302.5 L601.0 301.5 L602.1 300.6 L603.3 299.6 L604.4 298.6 L605.6 297.6 L606.7 296.5 L607.9 295.5 L609.0 294.4 L610.2 293.4 L611.3 292.3 L612.5 291.3 L613.7 290.2 L614.8 289.1 L616.0 288.1 L617.1 287.0 L618.3 286.0 L619.4 284.9 L620.6 283.9 L621.7 282.8 L622.9 281.8 L624.0 280.8 L625.2 279.8 L626.3 278.8 L627.5 277.8 L628.6 276.8 L629.8 275.9 L630.9 274.9 L632.1 274.0 L633.3 273.0 L634.4 272.1 L635.6 271.2 L636.7 270.3 L637.9 269.4 L639.0 268.5 L640.2 267.7 L641.3 266.8 L642.5 265.9 L643.6 265.1 L644.8 264.2 L645.9 263.4 L647.1 262.6 L648.2 261.7 L649.4 260.9 L650.6 260.1 L651.7 259.3 L652.9 258.5 L654.0 257.7 L655.2 256.9 L656.3 256.2 L657.5 255.4 L658.6 254.6 L659.8 253.8 L660.9 253.0 L662.1 252.2 L663.2 251.4 L664.4 250.6 L665.5 249.8 L666.7 249.1 L667.9 248.3 L669.0 247.6 L670.2 246.9 L671.3 246.2 L672.5 245.5 L673.6 244.9 L674.8 244.2 L675.9 243.6 L677.1 243.0 L678.2 242.4 L679.4 241.8 L680.5 241.2 L681.7 240.7 L682.8 240.1 L684.0 239.5 L685.1 238.9 L686.3 238.3 L687.5 237.8 L688.6 237.3 L689.8 236.9 L690.9 236.4 L692.1 236.0 L693.2 235.6 L694.4 235.2 L695.5 234.9 L696.7 234.6 L697.8 234.3 L699.0 234.0 L700.1 233.7 L701.3 233.5 L702.4 233.2 L703.6 233.0 L704.8 232.8 L705.9 232.6 L707.1 232.4 L708.2 232.3 L709.4 232.1 L710.5 232.1 L711.7 232.0 L712.8 232.0 L714.0 232.1 L715.1 232.2 L716.3 232.4 L717.4 232.6 L718.6 232.9 L719.7 233.2 L720.9 233.6 L722.1 234.0 L723.2 234.5 L724.4 235.1 L725.5 235.6 L726.7 236.3 L727.8 236.9 L729.0 237.7 L730.1 238.4 L731.3 239.3 L732.4 240.1 L733.6 241.1 L734.7 242.0 L735.9 243.1 L737.0 244.1 L738.2 245.3 L739.3 246.5 L740.5 247.7 L741.7 249.0 L742.8 250.3 L744.0 251.7 L745.1 253.2 L746.3 254.7 L747.4 256.3 L748.6 258.0 L749.7 259.7 L750.9 261.5 L752.0 263.3 L753.2 265.2 L754.3 267.1 L755.5 269.1 L756.6 271.2 L757.8 273.3 L759.0 275.5 L760.1 277.7 L761.3 279.9 L762.4 282.3 L763.6 284.6 L764.7 287.0 L765.9 289.5 L767.0 291.9 L768.2 294.4 L769.3 296.9 L770.5 299.3 L771.6 301.8 L772.8 304.2 L773.9 306.7 L775.1 309.1 L776.3 311.6 L777.4 314.0 L778.6 316.5 L779.7 319.0 L780.9 321.3 L782.0 323.7 L783.2 325.9 L784.3 328.1 L785.5 330.3 L786.6 332.4 L787.8 334.5 L788.9 336.5 L790.1 338.5 L791.2 340.6 L792.4 342.6 L793.5 344.6 L794.7 346.6 L795.9 348.7 L797.0 350.7 L798.2 352.8 L799.3 354.8 L800.5 356.8 L801.6 358.7 L802.8 360.6 L803.9 362.5 L805.1 364.4 L806.2 366.2 L807.4 368.1 L808.5 370.0 L809.7 371.9 L810.8 373.9 L812.0 375.8 L813.2 377.7 L814.3 379.6 L815.5 381.5 L816.6 383.4 L817.8 385.3 L818.9 387.1 L820.1 389.0 L821.2 390.8 L822.4 392.7 L823.5 394.5 L824.7 396.4 L825.8 398.2 L827.0 400.1 L828.1 402.0 L829.3 403.9 L830.5 405.8 L831.6 407.6 L832.8 409.5 L833.9 411.4 L835.1 413.2 L836.2 415.1 L837.4 416.9 L838.5 418.7 L839.7 420.5 L840.8 422.3 L842.0 424.0 L843.1 425.7 L844.3 427.4 L845.4 429.0 L846.6 430.6 L847.8 432.2 L848.9 433.8 L850.1 435.4 L851.2 437.0 L852.4 438.6 L853.5 440.3 L854.7 442.0 L855.8 443.7 L857.0 445.5 L858.1 447.2 L859.3 449.0 L860.4 450.8 L861.6 452.6 L862.7 454.4 L863.9 456.2 L865.0 458.0 L866.2 459.8 L867.4 461.6 L868.5 463.4 L869.7 465.2 L870.8 466.9 L872.0 468.7 L873.1 470.4 L874.3 472.1 L875.4 473.8 L876.6 475.4 L877.7 477.1 L878.9 478.7 L880.0 480.3 L881.2 481.9 L882.3 483.4 L883.5 485.0 L884.7 486.6 L885.8 488.1 L887.0 489.7 L888.1 491.2 L889.3 492.7 L890.4 494.3 L891.6 495.9 L892.7 497.4 L893.9 499.0 L895.0 500.6 L896.2 502.2 L897.3 503.8 L898.5 505.4 L899.6 507.0 L900.8 508.6 L902.0 510.2 L903.1 511.8 L904.3 513.4 L905.4 514.9 L906.6 516.5 L907.7 518.1 L908.9 519.7 L910.0 521.3 L911.2 522.9 L912.3 524.5 L913.5 526.1 L914.6 527.7 L915.8 529.3 L916.9 531.0 L918.1 532.6 L919.2 534.2 L920.4 535.9 L921.6 537.6 L922.7 539.3 L923.9 541.0 L925.0 542.8 L926.2 544.6 L927.3 546.4 L928.5 548.2 L929.6 550.0 L930.8 551.8 L931.9 553.6 L933.1 555.3 L934.2 557.1 L935.4 558.8 L936.5 560.6 L937.7 562.3 L938.9 563.9 L940.0 565.5 L941.2 567.0 L942.3 568.5 L943.5 569.9 L944.6 571.4 L945.8 572.8 L946.9 574.3 L948.1 575.7 L949.2 577.3 L950.4 578.8 L951.5 580.5 L952.7 582.1 L953.8 583.8 L955.0 585.5 L956.2 587.2 L957.3 588.8 L958.5 590.5 L959.6 592.2 L960.8 593.9 L961.9 595.6 L963.1 597.3 L964.2 598.9 L965.4 600.6 L966.5 602.3 L967.7 604.0 L968.8 605.6 L970.0 607.3 L971.1 609.0 L972.3 610.6 L973.4 612.1 L974.6 613.7 L975.8 615.2 L976.9 616.7 L978.1 618.2 L979.2 619.7 L980.4 621.2 L981.5 622.8 L982.7 624.3 L983.8 625.9 L985.0 627.5 L986.1 629.2 L987.3 630.8 L988.4 632.5 L989.6 634.1 L990.7 635.8 L991.9 637.4 L993.1 639.0 L994.2 640.7 L995.4 642.3 L996.5 643.9 L997.7 645.6 L998.8 647.2 L1000.0 648.9 L1001.1 650.5 L1002.3 652.2 L1003.4 653.9 L1004.6 655.5 L1005.7 657.2 L1006.9 659.0 L1008.0 660.7 L1009.2 662.4 L1010.4 664.2 L1011.5 666.0 L1012.7 667.8 L1013.8 669.6 L1015.0 671.5 L1016.1 673.4 L1017.3 675.3 L1018.4 677.2 L1019.6 679.2 L1020.7 681.1 L1021.9 683.1 L1023.0 685.0 L1024.2 687.0 L1025.3 688.9 L1026.5 690.8 L1027.6 692.8 L1028.8 694.7 L1030.0 696.5 L1031.1 698.4 L1032.3 700.2 L1033.4 702.0 L1034.6 703.8 L1035.7 705.5 L1036.9 707.3 L1038.0 709.1 L1039.2 710.8 L1040.3 712.6 L1041.5 714.3 L1042.6 716.1 L1043.8 717.8 L1044.9 719.6 L1046.1 721.3 L1047.3 723.0 L1048.4 724.7 L1049.6 726.4 L1050.7 728.1 L1051.9 729.7 L1053.0 731.3 L1054.2 732.8 L1055.3 734.3 L1056.5 735.7 L1057.6 737.1 L1058.8 738.4 L1059.9 739.7 L1061.1 740.9 L1062.2 742.0 L1063.4 743.1 L1064.6 744.2 L1065.7 745.3 L1066.9 746.4 L1068.0 747.5 L1069.2 748.6 L1070.3 749.8 L1071.5 751.0 L1072.6 752.2 L1073.8 753.4 L1074.9 754.6 L1076.1 755.8 L1077.2 757.0 L1078.4 758.2 L1079.5 759.4 L1080.7 760.6 L1081.8 761.8 L1083.0 763.0 L1084.2 764.2 L1085.3 765.4 L1086.5 766.5 L1087.6 767.7 L1088.8 768.9 L1089.9 770.1 L1091.1 771.3 L1092.2 772.5 L1093.4 773.7 L1094.5 774.9 L1095.7 776.0 L1096.8 777.2 L1098.0 778.4 L1099.1 779.6 L1100.3 780.7 L1101.5 781.8 L1102.6 783.0 L1103.8 784.1 L1104.9 785.2 L1106.1 786.2 L1107.2 787.3 L1108.4 788.4 L1109.5 789.4 L1110.7 790.5 L1111.8 791.6 L1113.0 792.6 L1114.1 793.7 L1115.3 794.7 L1116.4 795.7 L1117.6 796.8 L1118.8 797.8 L1119.9 798.8 L1121.1 799.8 L1122.2 800.9 L1123.4 801.9 L1124.5 802.9 L1125.7 803.9 L1126.8 804.9 L1128.0 806.0 L1129.1 807.0 L1130.3 808.0 L1131.4 809.0 L1132.6 810.1 L1133.7 811.1 L1134.9 812.1 L1136.1 813.1 L1137.2 814.1 L1138.4 815.2 L1139.5 816.2 L1140.7 817.2 L1141.8 818.2 L1143.0 819.2 L1144.1 820.2 L1145.3 821.1 L1146.4 822.1 L1147.6 823.1 L1148.7 824.1 L1149.9 825.1 L1151.0 826.1 L1152.2 827.2 L1153.3 828.2 L1154.5 829.2 L1155.7 830.2 L1156.8 831.2 L1158.0 832.2 L1159.1 833.2 L1160.3 834.2 L1161.4 835.2 L1162.6 836.1 L1163.7 837.1 L1164.9 838.1 L1166.0 839.0 L1167.2 840.0 L1168.3 840.9 L1169.5 841.8 L1170.6 842.8 L1171.8 843.7 L1173.0 844.6 L1174.1 845.5 L1175.3 846.4 L1176.4 847.4 L1177.6 848.3 L1178.7 849.2 L1179.9 850.1 L1181.0 851.1 L1182.2 852.0 L1183.3 853.0 L1184.5 854.0 L1185.6 855.0 L1186.8 856.1 L1187.9 857.1 L1189.1 858.2 L1190.3 859.2 L1191.4 860.3 L1192.6 861.3 L1193.7 862.4 L1194.9 863.4 L1196.0 864.4 L1197.2 865.4 L1198.3 866.4 L1199.5 867.4 L1200.6 868.4 L1201.8 869.3 L1202.9 870.3 L1204.1 871.2 L1205.2 872.2 L1206.4 873.1 L1207.5 874.0 L1208.7 874.9 L1209.9 875.8 L1211.0 876.6 L1212.2 877.5 L1213.3 878.4 L1214.5 879.2 L1215.6 880.1 L1216.8 880.9 L1217.9 881.7 L1219.1 882.6 L1220.2 883.4 L1221.4 884.2 L1222.5 885.1 L1223.7 885.9 L1224.8 886.7 L1226.0 887.6 L1227.2 888.4 L1228.3 889.2 L1229.5 890.0 L1230.6 890.8 L1231.8 891.6 L1232.9 892.4 L1234.1 893.1 L1235.2 893.9 L1236.4 894.6 L1237.5 895.3 L1238.7 896.0 L1239.8 896.7 L1241.0 897.4 L1242.1 898.1 L1243.3 898.8 L1244.5 899.4 L1245.6 900.0 L1246.8 900.7 L1247.9 901.3 L1249.1 901.9 L1250.2 902.6 L1251.4 903.2 L1252.5 903.8 L1253.7 904.4 L1254.8 905.0 L1256.0 905.6 L1257.1 906.2 L1258.3 906.8 L1259.4 907.5 L1260.6 908.1 L1261.7 908.7 L1262.9 909.3 L1264.1 909.9 L1265.2 910.6 L1266.4 911.2 L1267.5 911.8 L1268.7 912.4 L1269.8 913.0 L1271.0 913.6 L1272.1 914.2 L1273.3 914.7 L1274.4 915.3 L1275.6 915.9 L1276.7 916.5 L1277.9 917.0 L1279.0 917.6 L1280.2 918.2 L1281.4 918.7 L1282.5 919.4 L1283.7 920.1 L1284.8 920.9 L1286.0 921.6 L1287.1 922.3 L1288.3 923.1" stroke="#be4b48"/><path d="M121.2 770.9 L122.4 769.6 L123.5 768.4 L124.7 767.1 L125.8 765.9 L127.0 764.6 L128.2 763.4 L129.3 762.2 L130.5 761.0 L131.6 759.8 L132.8 758.6 L133.9 757.4 L135.1 756.2 L136.2 755.1 L137.4 753.9 L138.5 752.7 L139.7 751.5 L140.8 750.3 L142.0 749.1 L143.1 747.9 L144.3 746.7 L145.5 745.5 L146.6 744.3 L147.8 743.1 L148.9 741.8 L150.1 740.6 L151.2 739.4 L152.4 738.2 L153.5 737.0 L154.7 735.8 L155.8 734.6 L157.0 733.4 L158.1 732.2 L159.3 730.9 L160.4 729.7 L161.6 728.5 L162.7 727.3 L163.9 726.0 L165.1 724.8 L166.2 723.6 L167.4 722.3 L168.5 721.1 L169.7 719.8 L170.8 718.6 L172.0 717.3 L173.1 716.1 L174.3 714.8 L175.4 713.6 L176.6 712.3 L177.7 711.1 L178.9 709.8 L180.0 708.6 L181.2 707.3 L182.4 706.1 L183.5 704.8 L184.7 703.5 L185.8 702.3 L187.0 701.0 L188.1 699.8 L189.3 698.5 L190.4 697.3 L191.6 696.0 L192.7 694.7 L193.9 693.5 L195.0 692.2 L196.2 690.9 L197.3 689.6 L198.5 688.4 L199.7 687.1 L200.8 685.8 L202.0 684.5 L203.1 683.2 L204.3 681.9 L205.4 680.6 L206.6 679.3 L207.7 677.9 L208.9 676.6 L210.0 675.3 L211.2 674.0 L212.3 672.6 L213.5 671.3 L214.6 669.9 L215.8 668.6 L216.9 667.2 L218.1 665.8 L219.3 664.5 L220.4 663.1 L221.6 661.7 L222.7 660.3 L223.9 658.9 L225.0 657.5 L226.2 656.1 L227.3 654.7 L228.5 653.3 L229.6 651.9 L230.8 650.5 L231.9 649.1 L233.1 647.7 L234.2 646.2 L235.4 644.8 L236.6 643.4 L237.7 642.0 L238.9 640.6 L240.0 639.1 L241.2 637.7 L242.3 636.3 L243.5 634.9 L244.6 633.5 L245.8 632.1 L246.9 630.7 L248.1 629.4 L249.2 628.0 L250.4 626.6 L251.5 625.3 L252.7 623.9 L253.9 622.5 L255.0 621.2 L256.2 619.8 L257.3 618.5 L258.5 617.2 L259.6 615.8 L260.8 614.5 L261.9 613.2 L263.1 611.8 L264.2 610.5 L265.4 609.2 L266.5 607.9 L267.7 606.6 L268.8 605.3 L270.0 604.0 L271.2 602.8 L272.3 601.5 L273.5 600.3 L274.6 599.1 L275.8 597.9 L276.9 596.7 L278.1 595.5 L279.2 594.3 L280.4 593.2 L281.5 592.1 L282.7 591.0 L283.8 590.0 L285.0 588.9 L286.1 587.9 L287.3 586.9 L288.4 585.9 L289.6 584.9 L290.8 583.9 L291.9 583.0 L293.1 582.0 L294.2 581.1 L295.4 580.1 L296.5 579.2 L297.7 578.3 L298.8 577.3 L300.0 576.4 L301.1 575.5 L302.3 574.5 L303.4 573.6 L304.6 572.6 L305.7 571.7 L306.9 570.8 L308.1 569.8 L309.2 568.9 L310.4 567.9 L311.5 567.0 L312.7 566.1 L313.8 565.2 L315.0 564.2 L316.1 563.3 L317.3 562.4 L318.4 561.5 L319.6 560.6 L320.7 559.8 L321.9 558.9 L323.0 558.0 L324.2 557.2 L325.4 556.3 L326.5 555.5 L327.7 554.7 L328.8 553.8 L330.0 553.0 L331.1 552.2 L332.3 551.4 L333.4 550.6 L334.6 549.9 L335.7 549.1 L336.9 548.3 L338.0 547.6 L339.2 546.8 L340.3 546.1 L341.5 545.3 L342.6 544.6 L343.8 543.8 L345.0 543.1 L346.1 542.4 L347.3 541.6 L348.4 540.9 L349.6 540.2 L350.7 539.4 L351.9 538.7 L353.0 538.0 L354.2 537.2 L355.3 536.5 L356.5 535.7 L357.6 535.0 L358.8 534.2 L359.9 533.4 L361.1 532.6 L362.3 531.9 L363.4 531.1 L364.6 530.3 L365.7 529.5 L366.9 528.7 L368.0 528.0 L369.2 527.2 L370.3 526.4 L371.5 525.7 L372.6 524.9 L373.8 524.2 L374.9 523.4 L376.1 522.7 L377.2 522.0 L378.4 521.3 L379.6 520.6 L380.7 520.0 L381.9 519.3 L383.0 518.6 L384.2 518.0 L385.3 517.4 L386.5 516.7 L387.6 516.1 L388.8 515.5 L389.9 514.9 L391.1 514.3 L392.2 513.7 L393.4 513.1 L394.5 512.5 L395.7 511.9 L396.8 511.3 L398.0 510.7 L399.2 510.1 L400.3 509.5 L401.5 508.9 L402.6 508.3 L403.8 507.7 L404.9 507.1 L406.1 506.5 L407.2 505.9 L408.4 505.3 L409.5 504.7 L410.7 504.0 L411.8 503.4 L413.0 502.8 L414.1 502.2 L415.3 501.5 L416.5 500.9 L417.6 500.3 L418.8 499.6 L419.9 499.0 L421.1 498.4 L422.2 497.7 L423.4 497.1 L424.5 496.4 L425.7 495.8 L426.8 495.1 L428.0 494.4 L429.1 493.8 L430.3 493.1 L431.4 492.5 L432.6 491.8 L433.8 491.2 L434.9 490.5 L436.1 489.9 L437.2 489.2 L438.4 488.5 L439.5 487.9 L440.7 487.2 L441.8 486.5 L443.0 485.8 L444.1 485.1 L445.3 484.4 L446.4 483.7 L447.6 483.0 L448.7 482.2 L449.9 481.4 L451.0 480.6 L452.2 479.8 L453.4 479.0 L454.5 478.1 L455.7 477.2 L456.8 476.3 L458.0 475.3 L459.1 474.4 L460.3 473.4 L461.4 472.4 L462.6 471.4 L463.7 470.3 L464.9 469.3 L466.0 468.2 L467.2 467.2 L468.3 466.1 L469.5 465.0 L470.7 463.9 L471.8 462.8 L473.0 461.7 L474.1 460.5 L475.3 459.4 L476.4 458.2 L477.6 457.1 L478.7 455.9 L479.9 454.7 L481.0 453.4 L482.2 452.2 L483.3 451.0 L484.5 449.8 L485.6 448.6 L486.8 447.3 L488.0 446.1 L489.1 444.9 L490.3 443.6 L491.4 442.3 L492.6 441.0 L493.7 439.7 L494.9 438.4 L496.0 437.1 L497.2 435.7 L498.3 434.3 L499.5 432.9 L500.6 431.5 L501.8 430.1 L502.9 428.6 L504.1 427.2 L505.2 425.7 L506.4 424.2 L507.6 422.8 L508.7 421.3 L509.9 419.8 L511.0 418.3 L512.2 416.8 L513.3 415.2 L514.5 413.7 L515.6 412.2 L516.8 410.6 L517.9 409.1 L519.1 407.5 L520.2 405.9 L521.4 404.4 L522.5 402.8 L523.7 401.2 L524.9 399.6 L526.0 398.1 L527.2 396.5 L528.3 394.9 L529.5 393.3 L530.6 391.7 L531.8 390.1 L532.9 388.6 L534.1 387.0 L535.2 385.4 L536.4 383.8 L537.5 382.2 L538.7 380.6 L539.8 379.0 L541.0 377.4 L542.2 375.8 L543.3 374.2 L544.5 372.5 L545.6 370.9 L546.8 369.2 L547.9 367.6 L549.1 365.9 L550.2 364.3 L551.4 362.6 L552.5 360.9 L553.7 359.2 L554.8 357.6 L556.0 355.9 L557.1 354.2 L558.3 352.5 L559.5 350.8 L560.6 349.1 L561.8 347.5 L562.9 345.8 L564.1 344.1 L565.2 342.4 L566.4 340.8 L567.5 339.1 L568.7 337.5 L569.8 335.8 L571.0 334.2 L572.1 332.6 L573.3 331.0 L574.4 329.4 L575.6 327.8 L576.7 326.2 L577.9 324.7 L579.1 323.2 L580.2 321.6 L581.4 320.2 L582.5 318.7 L583.7 317.2 L584.8 315.8 L586.0 314.4 L587.1 313.1 L588.3 311.7 L589.4 310.4 L590.6 309.2 L591.7 307.9 L592.9 306.7 L594.0 305.5 L595.2 304.4 L596.4 303.2 L597.5 302.1 L598.7 301.0 L599.8 299.9 L601.0 298.8 L602.1 297.8 L603.3 296.7 L604.4 295.6 L605.6 294.6 L606.7 293.5 L607.9 292.5 L609.0 291.4 L610.2 290.3 L611.3 289.3 L612.5 288.2 L613.7 287.1 L614.8 286.0 L616.0 284.9 L617.1 283.9 L618.3 282.8 L619.4 281.7 L620.6 280.7 L621.7 279.6 L622.9 278.6 L624.0 277.5 L625.2 276.5 L626.3 275.5 L627.5 274.5 L628.6 273.5 L629.8 272.5 L630.9 271.6 L632.1 270.6 L633.3 269.6 L634.4 268.6 L635.6 267.7 L636.7 266.7 L637.9 265.8 L639.0 264.8 L640.2 263.9 L641.3 262.9 L642.5 262.0 L643.6 261.1 L644.8 260.2 L645.9 259.3 L647.1 258.4 L648.2 257.5 L649.4 256.7 L650.6 255.8 L651.7 255.0 L652.9 254.2 L654.0 253.4 L655.2 252.6 L656.3 251.8 L657.5 251.0 L658.6 250.2 L659.8 249.4 L660.9 248.6 L662.1 247.8 L663.2 247.0 L664.4 246.1 L665.5 245.3 L666.7 244.5 L667.9 243.7 L669.0 242.9 L670.2 242.2 L671.3 241.4 L672.5 240.7 L673.6 240.0 L674.8 239.3 L675.9 238.6 L677.1 237.9 L678.2 237.3 L679.4 236.6 L680.5 236.0 L681.7 235.3 L682.8 234.7 L684.0 234.0 L685.1 233.4 L686.3 232.8 L687.5 232.2 L688.6 231.6 L689.8 231.1 L690.9 230.6 L692.1 230.1 L693.2 229.7 L694.4 229.3 L695.5 228.9 L696.7 228.5 L697.8 228.1 L699.0 227.8 L700.1 227.5 L701.3 227.2 L702.4 226.9 L703.6 226.7 L704.8 226.5 L705.9 226.2 L707.1 226.0 L708.2 225.9 L709.4 225.8 L710.5 225.7 L711.7 225.6 L712.8 225.6 L714.0 225.7 L715.1 225.8 L716.3 226.0 L717.4 226.2 L718.6 226.5 L719.7 226.8 L720.9 227.2 L722.1 227.6 L723.2 228.1 L724.4 228.6 L725.5 229.1 L726.7 229.7 L727.8 230.4 L729.0 231.1 L730.1 231.8 L731.3 232.6 L732.4 233.4 L733.6 234.3 L734.7 235.2 L735.9 236.2 L737.0 237.3 L738.2 238.3 L739.3 239.5 L740.5 240.6 L741.7 241.9 L742.8 243.2 L744.0 244.5 L745.1 245.9 L746.3 247.3 L747.4 248.9 L748.6 250.4 L749.7 252.0 L750.9 253.7 L752.0 255.4 L753.2 257.2 L754.3 259.1 L755.5 261.0 L756.6 263.0 L757.8 265.0 L759.0 267.1 L760.1 269.2 L761.3 271.4 L762.4 273.7 L763.6 276.0 L764.7 278.4 L765.9 280.8 L767.0 283.3 L768.2 285.6 L769.3 287.9 L770.5 290.0 L771.6 292.2 L772.8 294.3 L773.9 296.4 L775.1 298.5 L776.3 300.6 L777.4 302.9 L778.6 305.2 L779.7 307.5 L780.9 309.9 L782.0 312.3 L783.2 314.6 L784.3 317.0 L785.5 319.4 L786.6 321.7 L787.8 324.0 L788.9 326.4 L790.1 328.7 L791.2 331.0 L792.4 333.3 L793.5 335.5 L794.7 337.8 L795.9 340.0 L797.0 342.2 L798.2 344.4 L799.3 346.5 L800.5 348.6 L801.6 350.6 L802.8 352.6 L803.9 354.5 L805.1 356.4 L806.2 358.3 L807.4 360.2 L808.5 362.0 L809.7 363.8 L810.8 365.6 L812.0 367.4 L813.2 369.2 L814.3 371.0 L815.5 372.9 L816.6 374.8 L817.8 376.7 L818.9 378.7 L820.1 380.7 L821.2 382.8 L822.4 384.8 L823.5 386.8 L824.7 388.9 L825.8 390.9 L827.0 392.8 L828.1 394.8 L829.3 396.8 L830.5 398.8 L831.6 400.8 L832.8 402.8 L833.9 404.8 L835.1 406.8 L836.2 408.8 L837.4 410.8 L838.5 412.7 L839.7 414.7 L840.8 416.6 L842.0 418.5 L843.1 420.4 L844.3 422.2 L845.4 424.0 L846.6 425.7 L847.8 427.3 L848.9 428.9 L850.1 430.5 L851.2 432.1 L852.4 433.6 L853.5 435.2 L854.7 436.8 L855.8 438.4 L857.0 440.0 L858.1 441.8 L859.3 443.6 L860.4 445.4 L861.6 447.3 L862.7 449.3 L863.9 451.2 L865.0 453.2 L866.2 455.2 L867.4 457.2 L868.5 459.2 L869.7 461.2 L870.8 463.1 L872.0 465.0 L873.1 466.9 L874.3 468.7 L875.4 470.4 L876.6 472.1 L877.7 473.8 L878.9 475.5 L880.0 477.1 L881.2 478.8 L882.3 480.4 L883.5 482.0 L884.7 483.7 L885.8 485.3 L887.0 486.9 L888.1 488.5 L889.3 490.2 L890.4 491.8 L891.6 493.4 L892.7 495.0 L893.9 496.6 L895.0 498.3 L896.2 499.9 L897.3 501.6 L898.5 503.2 L899.6 504.9 L900.8 506.5 L902.0 508.1 L903.1 509.8 L904.3 511.4 L905.4 513.1 L906.6 514.7 L907.7 516.3 L908.9 517.9 L910.0 519.6 L911.2 521.2 L912.3 522.8 L913.5 524.5 L914.6 526.1 L915.8 527.7 L916.9 529.3 L918.1 531.0 L919.2 532.6 L920.4 534.2 L921.6 535.9 L922.7 537.6 L923.9 539.3 L925.0 541.0 L926.2 542.7 L927.3 544.4 L928.5 546.2 L929.6 547.9 L930.8 549.6 L931.9 551.4 L933.1 553.1 L934.2 554.9 L935.4 556.6 L936.5 558.3 L937.7 560.0 L938.9 561.7 L940.0 563.4 L941.2 565.0 L942.3 566.4 L943.5 567.8 L944.6 569.2 L945.8 570.5 L946.9 571.7 L948.1 572.9 L949.2 574.2 L950.4 575.5 L951.5 576.8 L952.7 578.1 L953.8 579.6 L955.0 581.1 L956.2 582.6 L957.3 584.1 L958.5 585.7 L959.6 587.2 L960.8 588.8 L961.9 590.4 L963.1 592.0 L964.2 593.5 L965.4 595.1 L966.5 596.7 L967.7 598.3 L968.8 599.9 L970.0 601.4 L971.1 603.0 L972.3 604.5 L973.4 606.1 L974.6 607.6 L975.8 609.1 L976.9 610.6 L978.1 612.1 L979.2 613.6 L980.4 615.2 L981.5 616.7 L982.7 618.3 L983.8 619.9 L985.0 621.5 L986.1 623.2 L987.3 624.8 L988.4 626.5 L989.6 628.2 L990.7 629.8 L991.9 631.5 L993.1 633.2 L994.2 634.9 L995.4 636.6 L996.5 638.3 L997.7 640.0 L998.8 641.7 L1000.0 643.4 L1001.1 645.1 L1002.3 646.8 L1003.4 648.5 L1004.6 650.3 L1005.7 652.0 L1006.9 653.8 L1008.0 655.5 L1009.2 657.3 L1010.4 659.1 L1011.5 660.8 L1012.7 662.6 L1013.8 664.4 L1015.0 666.2 L1016.1 668.1 L1017.3 669.9 L1018.4 671.7 L1019.6 673.5 L1020.7 675.4 L1021.9 677.2 L1023.0 679.0 L1024.2 680.8 L1025.3 682.6 L1026.5 684.4 L1027.6 686.2 L1028.8 688.0 L1030.0 689.8 L1031.1 691.5 L1032.3 693.2 L1033.4 694.9 L1034.6 696.6 L1035.7 698.3 L1036.9 700.1 L1038.0 701.9 L1039.2 703.6 L1040.3 705.4 L1041.5 707.2 L1042.6 709.0 L1043.8 710.8 L1044.9 712.6 L1046.1 714.4 L1047.3 716.1 L1048.4 717.9 L1049.6 719.6 L1050.7 721.2 L1051.9 722.9 L1053.0 724.5 L1054.2 726.0 L1055.3 727.5 L1056.5 728.9 L1057.6 730.3 L1058.8 731.6 L1059.9 732.8 L1061.1 734.0 L1062.2 735.2 L1063.4 736.3 L1064.6 737.3 L1065.7 738.4 L1066.9 739.5 L1068.0 740.6 L1069.2 741.8 L1070.3 743.0 L1071.5 744.2 L1072.6 745.4 L1073.8 746.6 L1074.9 747.8 L1076.1 749.0 L1077.2 750.2 L1078.4 751.4 L1079.5 752.6 L1080.7 753.8 L1081.8 755.0 L1083.0 756.2 L1084.2 757.4 L1085.3 758.7 L1086.5 759.9 L1087.6 761.1 L1088.8 762.3 L1089.9 763.5 L1091.1 764.7 L1092.2 765.9 L1093.4 767.1 L1094.5 768.3 L1095.7 769.5 L1096.8 770.6 L1098.0 771.8 L1099.1 773.0 L1100.3 774.1 L1101.5 775.3 L1102.6 776.4 L1103.8 777.5 L1104.9 778.6 L1106.1 779.7 L1107.2 780.8 L1108.4 781.9 L1109.5 783.0 L1110.7 784.1 L1111.8 785.1 L1113.0 786.2 L1114.1 787.3 L1115.3 788.3 L1116.4 789.4 L1117.6 790.4 L1118.8 791.4 L1119.9 792.5 L1121.1 793.5 L1122.2 794.6 L1123.4 795.6 L1124.5 796.6 L1125.7 797.7 L1126.8 798.7 L1128.0 799.7 L1129.1 800.7 L1130.3 801.8 L1131.4 802.8 L1132.6 803.8 L1133.7 804.9 L1134.9 805.9 L1136.1 806.9 L1137.2 808.0 L1138.4 809.0 L1139.5 810.0 L1140.7 811.0 L1141.8 812.0 L1143.0 813.0 L1144.1 814.0 L1145.3 815.0 L1146.4 816.0 L1147.6 816.9 L1148.7 817.9 L1149.9 819.0 L1151.0 820.0 L1152.2 821.0 L1153.3 822.0 L1154.5 823.0 L1155.7 824.0 L1156.8 825.0 L1158.0 826.0 L1159.1 827.0 L1160.3 828.0 L1161.4 829.0 L1162.6 830.0 L1163.7 830.9 L1164.9 831.9 L1166.0 832.9 L1167.2 833.8 L1168.3 834.7 L1169.5 835.7 L1170.6 836.6 L1171.8 837.5 L1173.0 838.4 L1174.1 839.4 L1175.3 840.3 L1176.4 841.2 L1177.6 842.1 L1178.7 843.0 L1179.9 844.0 L1181.0 844.9 L1182.2 845.9 L1183.3 846.8 L1184.5 847.8 L1185.6 848.9 L1186.8 849.9 L1187.9 850.9 L1189.1 852.0 L1190.3 853.1 L1191.4 854.1 L1192.6 855.2 L1193.7 856.2 L1194.9 857.2 L1196.0 858.3 L1197.2 859.3 L1198.3 860.3 L1199.5 861.3 L1200.6 862.3 L1201.8 863.3 L1202.9 864.3 L1204.1 865.3 L1205.2 866.2 L1206.4 867.2 L1207.5 868.1 L1208.7 869.0 L1209.9 869.9 L1211.0 870.8 L1212.2 871.7 L1213.3 872.6 L1214.5 873.5 L1215.6 874.4 L1216.8 875.3 L1217.9 876.1 L1219.1 877.0 L1220.2 877.8 L1221.4 878.7 L1222.5 879.5 L1223.7 880.4 L1224.8 881.2 L1226.0 882.1 L1227.2 882.9 L1228.3 883.7 L1229.5 884.5 L1230.6 885.3 L1231.8 886.2 L1232.9 886.9 L1234.1 887.7 L1235.2 888.5 L1236.4 889.3 L1237.5 890.1 L1238.7 890.8 L1239.8 891.6 L1241.0 892.3 L1242.1 893.0 L1243.3 893.8 L1244.5 894.5 L1245.6 895.2 L1246.8 895.9 L1247.9 896.6 L1249.1 897.3 L1250.2 898.0 L1251.4 898.7 L1252.5 899.3 L1253.7 900.0 L1254.8 900.7 L1256.0 901.4 L1257.1 902.1 L1258.3 902.7 L1259.4 903.4 L1260.6 904.1 L1261.7 904.8 L1262.9 905.4 L1264.1 906.1 L1265.2 906.8 L1266.4 907.5 L1267.5 908.1 L1268.7 908.8 L1269.8 909.4 L1271.0 910.1 L1272.1 910.7 L1273.3 911.3 L1274.4 912.0 L1275.6 912.6 L1276.7 913.2 L1277.9 913.9 L1279.0 914.5 L1280.2 915.1 L1281.4 915.7 L1282.5 916.4 L1283.7 917.1 L1284.8 917.9 L1286.0 918.6 L1287.1 919.3 L1288.3 920.1" stroke="#98b954"/><path d="M121.2 768.4 L122.4 767.2 L123.5 765.9 L124.7 764.7 L125.8 763.4 L127.0 762.2 L128.2 760.9 L129.3 759.7 L130.5 758.4 L131.6 757.2 L132.8 756.0 L133.9 754.7 L135.1 753.5 L136.2 752.2 L137.4 751.0 L138.5 749.8 L139.7 748.5 L140.8 747.3 L142.0 746.1 L143.1 744.9 L144.3 743.6 L145.5 742.4 L146.6 741.2 L147.8 739.9 L148.9 738.7 L150.1 737.5 L151.2 736.2 L152.4 735.0 L153.5 733.8 L154.7 732.5 L155.8 731.3 L157.0 730.0 L158.1 728.8 L159.3 727.6 L160.4 726.3 L161.6 725.1 L162.7 723.8 L163.9 722.6 L165.1 721.3 L166.2 720.1 L167.4 718.8 L168.5 717.6 L169.7 716.3 L170.8 715.1 L172.0 713.8 L173.1 712.6 L174.3 711.3 L175.4 710.0 L176.6 708.8 L177.7 707.5 L178.9 706.3 L180.0 705.0 L181.2 703.8 L182.4 702.5 L183.5 701.2 L184.7 700.0 L185.8 698.7 L187.0 697.5 L188.1 696.2 L189.3 695.0 L190.4 693.7 L191.6 692.5 L192.7 691.2 L193.9 690.0 L195.0 688.7 L196.2 687.4 L197.3 686.2 L198.5 684.9 L199.7 683.6 L200.8 682.4 L202.0 681.1 L203.1 679.8 L204.3 678.6 L205.4 677.3 L206.6 676.0 L207.7 674.7 L208.9 673.4 L210.0 672.1 L211.2 670.8 L212.3 669.5 L213.5 668.2 L214.6 666.8 L215.8 665.5 L216.9 664.2 L218.1 662.8 L219.3 661.5 L220.4 660.2 L221.6 658.8 L222.7 657.4 L223.9 656.1 L225.0 654.7 L226.2 653.3 L227.3 652.0 L228.5 650.6 L229.6 649.2 L230.8 647.8 L231.9 646.4 L233.1 645.0 L234.2 643.6 L235.4 642.3 L236.6 640.9 L237.7 639.5 L238.9 638.1 L240.0 636.7 L241.2 635.3 L242.3 634.0 L243.5 632.6 L244.6 631.2 L245.8 629.9 L246.9 628.5 L248.1 627.2 L249.2 625.8 L250.4 624.5 L251.5 623.1 L252.7 621.8 L253.9 620.5 L255.0 619.1 L256.2 617.8 L257.3 616.4 L258.5 615.1 L259.6 613.8 L260.8 612.4 L261.9 611.1 L263.1 609.7 L264.2 608.4 L265.4 607.0 L266.5 605.7 L267.7 604.3 L268.8 603.0 L270.0 601.7 L271.2 600.4 L272.3 599.0 L273.5 597.7 L274.6 596.5 L275.8 595.2 L276.9 593.9 L278.1 592.7 L279.2 591.5 L280.4 590.3 L281.5 589.1 L282.7 587.9 L283.8 586.8 L285.0 585.7 L286.1 584.6 L287.3 583.5 L288.4 582.4 L289.6 581.4 L290.8 580.3 L291.9 579.3 L293.1 578.3 L294.2 577.3 L295.4 576.3 L296.5 575.3 L297.7 574.3 L298.8 573.3 L300.0 572.3 L301.1 571.4 L302.3 570.4 L303.4 569.4 L304.6 568.5 L305.7 567.5 L306.9 566.5 L308.1 565.6 L309.2 564.6 L310.4 563.7 L311.5 562.8 L312.7 561.8 L313.8 560.9 L315.0 560.0 L316.1 559.1 L317.3 558.2 L318.4 557.3 L319.6 556.4 L320.7 555.6 L321.9 554.7 L323.0 553.9 L324.2 553.0 L325.4 552.2 L326.5 551.4 L327.7 550.6 L328.8 549.8 L330.0 549.0 L331.1 548.2 L332.3 547.5 L333.4 546.7 L334.6 545.9 L335.7 545.2 L336.9 544.4 L338.0 543.7 L339.2 543.0 L340.3 542.2 L341.5 541.5 L342.6 540.8 L343.8 540.1 L345.0 539.4 L346.1 538.7 L347.3 538.0 L348.4 537.3 L349.6 536.6 L350.7 535.9 L351.9 535.2 L353.0 534.4 L354.2 533.7 L355.3 533.0 L356.5 532.3 L357.6 531.5 L358.8 530.8 L359.9 530.0 L361.1 529.3 L362.3 528.5 L363.4 527.8 L364.6 527.0 L365.7 526.2 L366.9 525.5 L368.0 524.7 L369.2 524.0 L370.3 523.2 L371.5 522.5 L372.6 521.7 L373.8 521.0 L374.9 520.3 L376.1 519.5 L377.2 518.8 L378.4 518.2 L379.6 517.5 L380.7 516.8 L381.9 516.1 L383.0 515.5 L384.2 514.9 L385.3 514.2 L386.5 513.6 L387.6 513.0 L388.8 512.4 L389.9 511.7 L391.1 511.1 L392.2 510.5 L393.4 509.9 L394.5 509.3 L395.7 508.7 L396.8 508.1 L398.0 507.5 L399.2 506.9 L400.3 506.3 L401.5 505.7 L402.6 505.1 L403.8 504.5 L404.9 503.9 L406.1 503.3 L407.2 502.7 L408.4 502.1 L409.5 501.5 L410.7 500.9 L411.8 500.3 L413.0 499.6 L414.1 499.0 L415.3 498.4 L416.5 497.8 L417.6 497.1 L418.8 496.5 L419.9 495.8 L421.1 495.2 L422.2 494.6 L423.4 493.9 L424.5 493.3 L425.7 492.6 L426.8 492.0 L428.0 491.3 L429.1 490.6 L430.3 490.0 L431.4 489.3 L432.6 488.7 L433.8 488.0 L434.9 487.4 L436.1 486.7 L437.2 486.0 L438.4 485.4 L439.5 484.7 L440.7 484.1 L441.8 483.4 L443.0 482.7 L444.1 482.0 L445.3 481.3 L446.4 480.6 L447.6 479.8 L448.7 479.1 L449.9 478.3 L451.0 477.5 L452.2 476.7 L453.4 475.8 L454.5 474.9 L455.7 474.0 L456.8 473.1 L458.0 472.2 L459.1 471.2 L460.3 470.2 L461.4 469.2 L462.6 468.2 L463.7 467.1 L464.9 466.1 L466.0 465.0 L467.2 463.9 L468.3 462.8 L469.5 461.7 L470.7 460.5 L471.8 459.4 L473.0 458.2 L474.1 457.0 L475.3 455.8 L476.4 454.6 L477.6 453.4 L478.7 452.1 L479.9 450.9 L481.0 449.6 L482.2 448.3 L483.3 447.0 L484.5 445.7 L485.6 444.3 L486.8 443.0 L488.0 441.6 L489.1 440.2 L490.3 438.8 L491.4 437.4 L492.6 435.9 L493.7 434.5 L494.9 433.0 L496.0 431.5 L497.2 430.0 L498.3 428.5 L499.5 427.0 L500.6 425.4 L501.8 423.9 L502.9 422.3 L504.1 420.7 L505.2 419.2 L506.4 417.6 L507.6 416.0 L508.7 414.4 L509.9 412.7 L511.0 411.1 L512.2 409.5 L513.3 407.8 L514.5 406.2 L515.6 404.5 L516.8 402.8 L517.9 401.2 L519.1 399.5 L520.2 397.8 L521.4 396.1 L522.5 394.4 L523.7 392.7 L524.9 391.1 L526.0 389.4 L527.2 387.7 L528.3 386.0 L529.5 384.4 L530.6 382.7 L531.8 381.0 L532.9 379.4 L534.1 377.7 L535.2 376.1 L536.4 374.4 L537.5 372.8 L538.7 371.2 L539.8 369.5 L541.0 367.9 L542.2 366.2 L543.3 364.6 L544.5 363.0 L545.6 361.3 L546.8 359.7 L547.9 358.0 L549.1 356.4 L550.2 354.7 L551.4 353.1 L552.5 351.5 L553.7 349.8 L554.8 348.2 L556.0 346.5 L557.1 344.9 L558.3 343.3 L559.5 341.6 L560.6 340.0 L561.8 338.4 L562.9 336.8 L564.1 335.2 L565.2 333.6 L566.4 332.0 L567.5 330.4 L568.7 328.8 L569.8 327.2 L571.0 325.6 L572.1 324.1 L573.3 322.5 L574.4 321.0 L575.6 319.4 L576.7 317.9 L577.9 316.4 L579.1 314.9 L580.2 313.5 L581.4 312.0 L582.5 310.6 L583.7 309.1 L584.8 307.7 L586.0 306.4 L587.1 305.0 L588.3 303.7 L589.4 302.3 L590.6 301.0 L591.7 299.8 L592.9 298.5 L594.0 297.3 L595.2 296.0 L596.4 294.8 L597.5 293.6 L598.7 292.4 L599.8 291.3 L601.0 290.1 L602.1 289.0 L603.3 287.9 L604.4 286.8 L605.6 285.7 L606.7 284.6 L607.9 283.6 L609.0 282.5 L610.2 281.5 L611.3 280.5 L612.5 279.5 L613.7 278.5 L614.8 277.5 L616.0 276.5 L617.1 275.5 L618.3 274.5 L619.4 273.6 L620.6 272.6 L621.7 271.6 L622.9 270.7 L624.0 269.7 L625.2 268.8 L626.3 267.8 L627.5 266.9 L628.6 265.9 L629.8 265.0 L630.9 264.1 L632.1 263.1 L633.3 262.2 L634.4 261.3 L635.6 260.4 L636.7 259.6 L637.9 258.7 L639.0 257.8 L640.2 256.9 L641.3 256.1 L642.5 255.2 L643.6 254.4 L644.8 253.5 L645.9 252.7 L647.1 251.9 L648.2 251.1 L649.4 250.2 L650.6 249.4 L651.7 248.6 L652.9 247.8 L654.0 247.0 L655.2 246.2 L656.3 245.4 L657.5 244.6 L658.6 243.8 L659.8 243.0 L660.9 242.1 L662.1 241.3 L663.2 240.5 L664.4 239.6 L665.5 238.7 L666.7 237.8 L667.9 236.9 L669.0 236.0 L670.2 235.1 L671.3 234.2 L672.5 233.3 L673.6 232.4 L674.8 231.5 L675.9 230.6 L677.1 229.7 L678.2 228.9 L679.4 228.1 L680.5 227.3 L681.7 226.5 L682.8 225.7 L684.0 225.0 L685.1 224.3 L686.3 223.7 L687.5 223.1 L688.6 222.5 L689.8 222.0 L690.9 221.5 L692.1 221.0 L693.2 220.6 L694.4 220.2 L695.5 219.8 L696.7 219.4 L697.8 219.1 L699.0 218.8 L700.1 218.5 L701.3 218.2 L702.4 217.9 L703.6 217.6 L704.8 217.4 L705.9 217.2 L707.1 216.9 L708.2 216.8 L709.4 216.6 L710.5 216.5 L711.7 216.4 L712.8 216.4 L714.0 216.4 L715.1 216.5 L716.3 216.7 L717.4 216.9 L718.6 217.1 L719.7 217.4 L720.9 217.8 L722.1 218.2 L723.2 218.6 L724.4 219.2 L725.5 219.8 L726.7 220.4 L727.8 221.2 L729.0 221.9 L730.1 222.8 L731.3 223.7 L732.4 224.6 L733.6 225.6 L734.7 226.6 L735.9 227.7 L737.0 228.8 L738.2 229.9 L739.3 231.1 L740.5 232.3 L741.7 233.5 L742.8 234.8 L744.0 236.0 L745.1 237.2 L746.3 238.5 L747.4 239.7 L748.6 240.9 L749.7 242.2 L750.9 243.5 L752.0 244.9 L753.2 246.3 L754.3 247.8 L755.5 249.3 L756.6 250.9 L757.8 252.5 L759.0 254.3 L760.1 256.1 L761.3 258.1 L762.4 260.1 L763.6 262.3 L764.7 264.5 L765.9 266.9 L767.0 269.4 L768.2 271.9 L769.3 274.5 L770.5 277.1 L771.6 279.8 L772.8 282.5 L773.9 285.2 L775.1 287.9 L776.3 290.7 L777.4 293.4 L778.6 296.2 L779.7 298.9 L780.9 301.6 L782.0 304.2 L783.2 306.8 L784.3 309.4 L785.5 311.9 L786.6 314.3 L787.8 316.8 L788.9 319.2 L790.1 321.6 L791.2 323.9 L792.4 326.3 L793.5 328.6 L794.7 330.9 L795.9 333.2 L797.0 335.5 L798.2 337.7 L799.3 340.0 L800.5 342.1 L801.6 344.3 L802.8 346.3 L803.9 348.4 L805.1 350.3 L806.2 352.3 L807.4 354.2 L808.5 356.1 L809.7 357.9 L810.8 359.8 L812.0 361.6 L813.2 363.4 L814.3 365.2 L815.5 367.0 L816.6 368.7 L817.8 370.5 L818.9 372.4 L820.1 374.3 L821.2 376.3 L822.4 378.4 L823.5 380.5 L824.7 382.7 L825.8 384.8 L827.0 386.9 L828.1 388.9 L829.3 390.9 L830.5 392.8 L831.6 394.6 L832.8 396.4 L833.9 398.1 L835.1 399.9 L836.2 401.7 L837.4 403.5 L838.5 405.2 L839.7 407.0 L840.8 408.7 L842.0 410.5 L843.1 412.2 L844.3 413.9 L845.4 415.6 L846.6 417.4 L847.8 419.1 L848.9 420.8 L850.1 422.5 L851.2 424.2 L852.4 425.9 L853.5 427.5 L854.7 429.2 L855.8 430.8 L857.0 432.4 L858.1 434.0 L859.3 435.6 L860.4 437.3 L861.6 438.9 L862.7 440.6 L863.9 442.4 L865.0 444.3 L866.2 446.2 L867.4 448.2 L868.5 450.2 L869.7 452.3 L870.8 454.4 L872.0 456.5 L873.1 458.6 L874.3 460.6 L875.4 462.6 L876.6 464.6 L877.7 466.5 L878.9 468.3 L880.0 470.1 L881.2 471.8 L882.3 473.5 L883.5 475.2 L884.7 476.9 L885.8 478.6 L887.0 480.3 L888.1 482.0 L889.3 483.6 L890.4 485.3 L891.6 487.0 L892.7 488.7 L893.9 490.4 L895.0 492.1 L896.2 493.8 L897.3 495.5 L898.5 497.2 L899.6 498.9 L900.8 500.6 L902.0 502.4 L903.1 504.0 L904.3 505.7 L905.4 507.3 L906.6 508.8 L907.7 510.4 L908.9 511.9 L910.0 513.3 L911.2 514.7 L912.3 516.2 L913.5 517.6 L914.6 518.9 L915.8 520.3 L916.9 521.7 L918.1 523.1 L919.2 524.5 L920.4 525.9 L921.6 527.3 L922.7 528.8 L923.9 530.2 L925.0 531.8 L926.2 533.3 L927.3 534.9 L928.5 536.6 L929.6 538.3 L930.8 540.0 L931.9 541.6 L933.1 543.4 L934.2 545.1 L935.4 546.8 L936.5 548.5 L937.7 550.3 L938.9 552.0 L940.0 553.7 L941.2 555.5 L942.3 557.2 L943.5 558.9 L944.6 560.6 L945.8 562.3 L946.9 564.0 L948.1 565.6 L949.2 567.1 L950.4 568.6 L951.5 570.1 L952.7 571.5 L953.8 572.9 L955.0 574.3 L956.2 575.7 L957.3 577.1 L958.5 578.5 L959.6 580.0 L960.8 581.5 L961.9 583.0 L963.1 584.5 L964.2 586.0 L965.4 587.5 L966.5 589.0 L967.7 590.6 L968.8 592.2 L970.0 593.8 L971.1 595.4 L972.3 597.0 L973.4 598.6 L974.6 600.2 L975.8 601.9 L976.9 603.5 L978.1 605.1 L979.2 606.8 L980.4 608.4 L981.5 610.0 L982.7 611.7 L983.8 613.3 L985.0 614.9 L986.1 616.6 L987.3 618.2 L988.4 619.9 L989.6 621.5 L990.7 623.1 L991.9 624.7 L993.1 626.4 L994.2 628.0 L995.4 629.6 L996.5 631.2 L997.7 632.8 L998.8 634.4 L1000.0 636.0 L1001.1 637.6 L1002.3 639.3 L1003.4 640.9 L1004.6 642.6 L1005.7 644.2 L1006.9 645.9 L1008.0 647.6 L1009.2 649.3 L1010.4 651.0 L1011.5 652.8 L1012.7 654.6 L1013.8 656.4 L1015.0 658.2 L1016.1 660.0 L1017.3 661.9 L1018.4 663.7 L1019.6 665.6 L1020.7 667.5 L1021.9 669.4 L1023.0 671.3 L1024.2 673.2 L1025.3 675.0 L1026.5 676.9 L1027.6 678.7 L1028.8 680.6 L1030.0 682.4 L1031.1 684.2 L1032.3 685.9 L1033.4 687.7 L1034.6 689.4 L1035.7 691.1 L1036.9 692.8 L1038.0 694.5 L1039.2 696.2 L1040.3 697.8 L1041.5 699.5 L1042.6 701.2 L1043.8 702.9 L1044.9 704.6 L1046.1 706.3 L1047.3 708.0 L1048.4 709.7 L1049.6 711.4 L1050.7 713.0 L1051.9 714.7 L1053.0 716.3 L1054.2 718.0 L1055.3 719.5 L1056.5 721.0 L1057.6 722.5 L1058.8 723.9 L1059.9 725.3 L1061.1 726.6 L1062.2 727.9 L1063.4 729.1 L1064.6 730.3 L1065.7 731.4 L1066.9 732.6 L1068.0 733.7 L1069.2 734.9 L1070.3 736.1 L1071.5 737.3 L1072.6 738.5 L1073.8 739.7 L1074.9 740.9 L1076.1 742.1 L1077.2 743.3 L1078.4 744.5 L1079.5 745.7 L1080.7 746.9 L1081.8 748.1 L1083.0 749.3 L1084.2 750.5 L1085.3 751.7 L1086.5 752.9 L1087.6 754.0 L1088.8 755.2 L1089.9 756.4 L1091.1 757.6 L1092.2 758.8 L1093.4 760.0 L1094.5 761.2 L1095.7 762.4 L1096.8 763.5 L1098.0 764.7 L1099.1 765.9 L1100.3 767.0 L1101.5 768.2 L1102.6 769.3 L1103.8 770.4 L1104.9 771.5 L1106.1 772.6 L1107.2 773.7 L1108.4 774.8 L1109.5 775.9 L1110.7 777.0 L1111.8 778.0 L1113.0 779.1 L1114.1 780.1 L1115.3 781.2 L1116.4 782.2 L1117.6 783.3 L1118.8 784.3 L1119.9 785.4 L1121.1 786.4 L1122.2 787.4 L1123.4 788.5 L1124.5 789.5 L1125.7 790.6 L1126.8 791.6 L1128.0 792.6 L1129.1 793.7 L1130.3 794.7 L1131.4 795.7 L1132.6 796.8 L1133.7 797.8 L1134.9 798.9 L1136.1 799.9 L1137.2 800.9 L1138.4 802.0 L1139.5 803.0 L1140.7 804.0 L1141.8 805.1 L1143.0 806.1 L1144.1 807.1 L1145.3 808.2 L1146.4 809.2 L1147.6 810.2 L1148.7 811.2 L1149.9 812.2 L1151.0 813.3 L1152.2 814.3 L1153.3 815.3 L1154.5 816.3 L1155.7 817.3 L1156.8 818.4 L1158.0 819.4 L1159.1 820.4 L1160.3 821.4 L1161.4 822.3 L1162.6 823.3 L1163.7 824.3 L1164.9 825.3 L1166.0 826.2 L1167.2 827.2 L1168.3 828.1 L1169.5 829.1 L1170.6 830.0 L1171.8 831.0 L1173.0 831.9 L1174.1 832.8 L1175.3 833.8 L1176.4 834.7 L1177.6 835.6 L1178.7 836.6 L1179.9 837.5 L1181.0 838.5 L1182.2 839.5 L1183.3 840.5 L1184.5 841.5 L1185.6 842.5 L1186.8 843.6 L1187.9 844.7 L1189.1 845.8 L1190.3 846.8 L1191.4 847.9 L1192.6 849.0 L1193.7 850.0 L1194.9 851.1 L1196.0 852.1 L1197.2 853.1 L1198.3 854.1 L1199.5 855.1 L1200.6 856.1 L1201.8 857.1 L1202.9 858.1 L1204.1 859.0 L1205.2 860.0 L1206.4 860.9 L1207.5 861.8 L1208.7 862.7 L1209.9 863.6 L1211.0 864.5 L1212.2 865.4 L1213.3 866.2 L1214.5 867.1 L1215.6 868.0 L1216.8 868.8 L1217.9 869.6 L1219.1 870.5 L1220.2 871.3 L1221.4 872.2 L1222.5 873.0 L1223.7 873.8 L1224.8 874.7 L1226.0 875.5 L1227.2 876.3 L1228.3 877.1 L1229.5 878.0 L1230.6 878.8 L1231.8 879.6 L1232.9 880.4 L1234.1 881.2 L1235.2 882.0 L1236.4 882.8 L1237.5 883.6 L1238.7 884.3 L1239.8 885.1 L1241.0 885.9 L1242.1 886.6 L1243.3 887.4 L1244.5 888.1 L1245.6 888.8 L1246.8 889.6 L1247.9 890.3 L1249.1 891.0 L1250.2 891.7 L1251.4 892.4 L1252.5 893.1 L1253.7 893.8 L1254.8 894.6 L1256.0 895.3 L1257.1 896.0 L1258.3 896.7 L1259.4 897.4 L1260.6 898.1 L1261.7 898.8 L1262.9 899.5 L1264.1 900.1 L1265.2 900.8 L1266.4 901.5 L1267.5 902.2 L1268.7 902.9 L1269.8 903.5 L1271.0 904.2 L1272.1 904.8 L1273.3 905.5 L1274.4 906.1 L1275.6 906.8 L1276.7 907.4 L1277.9 908.1 L1279.0 908.7 L1280.2 909.3 L1281.4 909.9 L1282.5 910.6 L1283.7 911.4 L1284.8 912.1 L1286.0 912.8 L1287.1 913.6 L1288.3 914.3" stroke="#7d60a0"/><path d="M121.2 767.8 L122.4 766.5 L123.5 765.2 L124.7 764.0 L125.8 762.7 L127.0 761.5 L128.2 760.2 L129.3 759.0 L130.5 757.7 L131.6 756.5 L132.8 755.2 L133.9 754.0 L135.1 752.8 L136.2 751.5 L137.4 750.3 L138.5 749.0 L139.7 747.8 L140.8 746.6 L142.0 745.3 L143.1 744.1 L144.3 742.9 L145.5 741.6 L146.6 740.4 L147.8 739.2 L148.9 737.9 L150.1 736.7 L151.2 735.4 L152.4 734.2 L153.5 733.0 L154.7 731.7 L155.8 730.5 L157.0 729.3 L158.1 728.0 L159.3 726.8 L160.4 725.5 L161.6 724.3 L162.7 723.0 L163.9 721.8 L165.1 720.5 L166.2 719.3 L167.4 718.0 L168.5 716.8 L169.7 715.5 L170.8 714.3 L172.0 713.0 L173.1 711.7 L174.3 710.5 L175.4 709.2 L176.6 708.0 L177.7 706.7 L178.9 705.5 L180.0 704.2 L181.2 702.9 L182.4 701.7 L183.5 700.4 L184.7 699.2 L185.8 697.9 L187.0 696.7 L188.1 695.4 L189.3 694.2 L190.4 692.9 L191.6 691.7 L192.7 690.4 L193.9 689.2 L195.0 687.9 L196.2 686.6 L197.3 685.4 L198.5 684.1 L199.7 682.9 L200.8 681.6 L202.0 680.3 L203.1 679.1 L204.3 677.8 L205.4 676.5 L206.6 675.2 L207.7 673.9 L208.9 672.6 L210.0 671.4 L211.2 670.0 L212.3 668.7 L213.5 667.4 L214.6 666.1 L215.8 664.8 L216.9 663.5 L218.1 662.1 L219.3 660.8 L220.4 659.5 L221.6 658.1 L222.7 656.8 L223.9 655.4 L225.0 654.0 L226.2 652.7 L227.3 651.3 L228.5 649.9 L229.6 648.5 L230.8 647.1 L231.9 645.7 L233.1 644.4 L234.2 643.0 L235.4 641.6 L236.6 640.2 L237.7 638.8 L238.9 637.4 L240.0 636.0 L241.2 634.7 L242.3 633.3 L243.5 631.9 L244.6 630.6 L245.8 629.2 L246.9 627.9 L248.1 626.5 L249.2 625.2 L250.4 623.8 L251.5 622.5 L252.7 621.1 L253.9 619.8 L255.0 618.4 L256.2 617.1 L257.3 615.8 L258.5 614.4 L259.6 613.1 L260.8 611.7 L261.9 610.4 L263.1 609.0 L264.2 607.7 L265.4 606.3 L266.5 605.0 L267.7 603.7 L268.8 602.3 L270.0 601.0 L271.2 599.7 L272.3 598.4 L273.5 597.1 L274.6 595.8 L275.8 594.5 L276.9 593.2 L278.1 592.0 L279.2 590.8 L280.4 589.6 L281.5 588.4 L282.7 587.3 L283.8 586.1 L285.0 585.0 L286.1 583.9 L287.3 582.8 L288.4 581.8 L289.6 580.7 L290.8 579.7 L291.9 578.6 L293.1 577.6 L294.2 576.6 L295.4 575.6 L296.5 574.6 L297.7 573.6 L298.8 572.6 L300.0 571.7 L301.1 570.7 L302.3 569.7 L303.4 568.7 L304.6 567.8 L305.7 566.8 L306.9 565.9 L308.1 564.9 L309.2 564.0 L310.4 563.0 L311.5 562.1 L312.7 561.2 L313.8 560.2 L315.0 559.3 L316.1 558.4 L317.3 557.5 L318.4 556.6 L319.6 555.8 L320.7 554.9 L321.9 554.0 L323.0 553.2 L324.2 552.4 L325.4 551.5 L326.5 550.7 L327.7 549.9 L328.8 549.1 L330.0 548.3 L331.1 547.5 L332.3 546.8 L333.4 546.0 L334.6 545.2 L335.7 544.5 L336.9 543.7 L338.0 543.0 L339.2 542.3 L340.3 541.6 L341.5 540.8 L342.6 540.1 L343.8 539.4 L345.0 538.7 L346.1 538.0 L347.3 537.3 L348.4 536.6 L349.6 535.9 L350.7 535.2 L351.9 534.5 L353.0 533.8 L354.2 533.0 L355.3 532.3 L356.5 531.6 L357.6 530.9 L358.8 530.1 L359.9 529.4 L361.1 528.6 L362.3 527.8 L363.4 527.1 L364.6 526.3 L365.7 525.6 L366.9 524.8 L368.0 524.0 L369.2 523.3 L370.3 522.5 L371.5 521.8 L372.6 521.0 L373.8 520.3 L374.9 519.6 L376.1 518.9 L377.2 518.2 L378.4 517.5 L379.6 516.8 L380.7 516.1 L381.9 515.5 L383.0 514.8 L384.2 514.2 L385.3 513.5 L386.5 512.9 L387.6 512.3 L388.8 511.7 L389.9 511.1 L391.1 510.4 L392.2 509.8 L393.4 509.2 L394.5 508.6 L395.7 508.0 L396.8 507.4 L398.0 506.8 L399.2 506.3 L400.3 505.7 L401.5 505.1 L402.6 504.5 L403.8 503.9 L404.9 503.2 L406.1 502.6 L407.2 502.0 L408.4 501.4 L409.5 500.8 L410.7 500.2 L411.8 499.6 L413.0 499.0 L414.1 498.3 L415.3 497.7 L416.5 497.1 L417.6 496.4 L418.8 495.8 L419.9 495.2 L421.1 494.5 L422.2 493.9 L423.4 493.2 L424.5 492.6 L425.7 491.9 L426.8 491.3 L428.0 490.6 L429.1 490.0 L430.3 489.3 L431.4 488.6 L432.6 488.0 L433.8 487.3 L434.9 486.7 L436.1 486.0 L437.2 485.4 L438.4 484.7 L439.5 484.0 L440.7 483.4 L441.8 482.7 L443.0 482.0 L444.1 481.3 L445.3 480.6 L446.4 479.9 L447.6 479.1 L448.7 478.4 L449.9 477.6 L451.0 476.8 L452.2 476.0 L453.4 475.1 L454.5 474.3 L455.7 473.4 L456.8 472.4 L458.0 471.5 L459.1 470.5 L460.3 469.5 L461.4 468.5 L462.6 467.5 L463.7 466.4 L464.9 465.4 L466.0 464.3 L467.2 463.1 L468.3 462.0 L469.5 460.9 L470.7 459.7 L471.8 458.5 L473.0 457.3 L474.1 456.1 L475.3 454.9 L476.4 453.6 L477.6 452.4 L478.7 451.1 L479.9 449.8 L481.0 448.5 L482.2 447.2 L483.3 445.8 L484.5 444.5 L485.6 443.1 L486.8 441.7 L488.0 440.3 L489.1 438.9 L490.3 437.4 L491.4 436.0 L492.6 434.5 L493.7 433.0 L494.9 431.5 L496.0 430.0 L497.2 428.4 L498.3 426.9 L499.5 425.3 L500.6 423.7 L501.8 422.1 L502.9 420.5 L504.1 418.9 L505.2 417.2 L506.4 415.6 L507.6 413.9 L508.7 412.2 L509.9 410.6 L511.0 408.9 L512.2 407.1 L513.3 405.4 L514.5 403.7 L515.6 402.0 L516.8 400.2 L517.9 398.5 L519.1 396.7 L520.2 395.0 L521.4 393.2 L522.5 391.4 L523.7 389.7 L524.9 387.9 L526.0 386.2 L527.2 384.4 L528.3 382.7 L529.5 381.0 L530.6 379.3 L531.8 377.5 L532.9 375.8 L534.1 374.1 L535.2 372.4 L536.4 370.8 L537.5 369.1 L538.7 367.4 L539.8 365.7 L541.0 364.1 L542.2 362.4 L543.3 360.8 L544.5 359.1 L545.6 357.5 L546.8 355.8 L547.9 354.2 L549.1 352.5 L550.2 350.9 L551.4 349.3 L552.5 347.6 L553.7 346.0 L554.8 344.3 L556.0 342.7 L557.1 341.1 L558.3 339.5 L559.5 337.8 L560.6 336.2 L561.8 334.6 L562.9 333.0 L564.1 331.4 L565.2 329.8 L566.4 328.2 L567.5 326.6 L568.7 325.0 L569.8 323.4 L571.0 321.9 L572.1 320.3 L573.3 318.7 L574.4 317.2 L575.6 315.7 L576.7 314.2 L577.9 312.7 L579.1 311.2 L580.2 309.7 L581.4 308.3 L582.5 306.8 L583.7 305.4 L584.8 304.0 L586.0 302.6 L587.1 301.3 L588.3 300.0 L589.4 298.6 L590.6 297.4 L591.7 296.1 L592.9 294.9 L594.0 293.6 L595.2 292.4 L596.4 291.2 L597.5 290.1 L598.7 288.9 L599.8 287.8 L601.0 286.7 L602.1 285.5 L603.3 284.4 L604.4 283.4 L605.6 282.3 L606.7 281.2 L607.9 280.2 L609.0 279.1 L610.2 278.1 L611.3 277.0 L612.5 276.0 L613.7 275.0 L614.8 274.0 L616.0 273.0 L617.1 272.0 L618.3 270.9 L619.4 269.9 L620.6 269.0 L621.7 268.0 L622.9 267.0 L624.0 266.0 L625.2 265.0 L626.3 264.0 L627.5 263.0 L628.6 262.0 L629.8 261.0 L630.9 260.0 L632.1 259.0 L633.3 258.1 L634.4 257.1 L635.6 256.1 L636.7 255.1 L637.9 254.1 L639.0 253.2 L640.2 252.2 L641.3 251.3 L642.5 250.3 L643.6 249.4 L644.8 248.4 L645.9 247.5 L647.1 246.6 L648.2 245.7 L649.4 244.8 L650.6 243.9 L651.7 243.0 L652.9 242.1 L654.0 241.2 L655.2 240.3 L656.3 239.4 L657.5 238.5 L658.6 237.5 L659.8 236.6 L660.9 235.7 L662.1 234.7 L663.2 233.8 L664.4 232.8 L665.5 231.8 L666.7 230.8 L667.9 229.8 L669.0 228.8 L670.2 227.8 L671.3 226.8 L672.5 225.7 L673.6 224.7 L674.8 223.7 L675.9 222.7 L677.1 221.7 L678.2 220.7 L679.4 219.8 L680.5 218.9 L681.7 218.0 L682.8 217.1 L684.0 216.3 L685.1 215.5 L686.3 214.7 L687.5 214.0 L688.6 213.3 L689.8 212.7 L690.9 212.1 L692.1 211.5 L693.2 210.9 L694.4 210.4 L695.5 209.9 L696.7 209.4 L697.8 209.0 L699.0 208.6 L700.1 208.2 L701.3 207.8 L702.4 207.4 L703.6 207.1 L704.8 206.8 L705.9 206.5 L707.1 206.2 L708.2 206.0 L709.4 205.8 L710.5 205.6 L711.7 205.5 L712.8 205.5 L714.0 205.5 L715.1 205.5 L716.3 205.6 L717.4 205.7 L718.6 205.9 L719.7 206.2 L720.9 206.5 L722.1 206.8 L723.2 207.2 L724.4 207.7 L725.5 208.2 L726.7 208.7 L727.8 209.3 L729.0 209.9 L730.1 210.6 L731.3 211.4 L732.4 212.1 L733.6 213.0 L734.7 213.9 L735.9 214.8 L737.0 215.8 L738.2 216.8 L739.3 217.9 L740.5 219.1 L741.7 220.3 L742.8 221.5 L744.0 222.8 L745.1 224.2 L746.3 225.6 L747.4 227.0 L748.6 228.6 L749.7 230.2 L750.9 231.8 L752.0 233.5 L753.2 235.3 L754.3 237.1 L755.5 239.0 L756.6 240.9 L757.8 242.9 L759.0 245.0 L760.1 247.1 L761.3 249.3 L762.4 251.5 L763.6 253.9 L764.7 256.2 L765.9 258.7 L767.0 261.1 L768.2 263.7 L769.3 266.2 L770.5 268.8 L771.6 271.5 L772.8 274.1 L773.9 276.8 L775.1 279.5 L776.3 282.2 L777.4 285.0 L778.6 287.7 L779.7 290.5 L780.9 293.2 L782.0 296.0 L783.2 298.7 L784.3 301.4 L785.5 304.1 L786.6 306.8 L787.8 309.5 L788.9 312.2 L790.1 314.8 L791.2 317.4 L792.4 320.0 L793.5 322.6 L794.7 325.1 L795.9 327.5 L797.0 330.0 L798.2 332.3 L799.3 334.7 L800.5 336.9 L801.6 339.2 L802.8 341.3 L803.9 343.4 L805.1 345.5 L806.2 347.6 L807.4 349.5 L808.5 351.5 L809.7 353.4 L810.8 355.2 L812.0 357.1 L813.2 358.9 L814.3 360.6 L815.5 362.4 L816.6 364.1 L817.8 365.9 L818.9 367.6 L820.1 369.4 L821.2 371.1 L822.4 373.0 L823.5 374.9 L824.7 376.9 L825.8 378.9 L827.0 380.9 L828.1 383.0 L829.3 385.0 L830.5 387.0 L831.6 388.9 L832.8 390.8 L833.9 392.5 L835.1 394.2 L836.2 395.9 L837.4 397.6 L838.5 399.2 L839.7 400.9 L840.8 402.6 L842.0 404.3 L843.1 405.9 L844.3 407.6 L845.4 409.3 L846.6 410.9 L847.8 412.6 L848.9 414.3 L850.1 415.9 L851.2 417.6 L852.4 419.3 L853.5 420.9 L854.7 422.6 L855.8 424.3 L857.0 425.9 L858.1 427.6 L859.3 429.1 L860.4 430.7 L861.6 432.2 L862.7 433.7 L863.9 435.2 L865.0 436.8 L866.2 438.4 L867.4 440.1 L868.5 441.8 L869.7 443.5 L870.8 445.3 L872.0 447.1 L873.1 448.9 L874.3 450.7 L875.4 452.6 L876.6 454.4 L877.7 456.2 L878.9 458.1 L880.0 459.9 L881.2 461.7 L882.3 463.5 L883.5 465.3 L884.7 467.1 L885.8 468.8 L887.0 470.6 L888.1 472.3 L889.3 474.0 L890.4 475.7 L891.6 477.4 L892.7 479.2 L893.9 480.9 L895.0 482.6 L896.2 484.4 L897.3 486.1 L898.5 487.8 L899.6 489.5 L900.8 491.3 L902.0 493.0 L903.1 494.7 L904.3 496.5 L905.4 498.2 L906.6 499.9 L907.7 501.6 L908.9 503.3 L910.0 505.0 L911.2 506.6 L912.3 508.2 L913.5 509.8 L914.6 511.3 L915.8 512.8 L916.9 514.3 L918.1 515.7 L919.2 517.2 L920.4 518.6 L921.6 520.0 L922.7 521.5 L923.9 522.9 L925.0 524.3 L926.2 525.8 L927.3 527.2 L928.5 528.7 L929.6 530.2 L930.8 531.8 L931.9 533.3 L933.1 535.0 L934.2 536.6 L935.4 538.3 L936.5 540.0 L937.7 541.6 L938.9 543.3 L940.0 545.0 L941.2 546.8 L942.3 548.5 L943.5 550.2 L944.6 552.0 L945.8 553.7 L946.9 555.5 L948.1 557.2 L949.2 559.0 L950.4 560.8 L951.5 562.5 L952.7 564.3 L953.8 566.2 L955.0 568.1 L956.2 570.0 L957.3 572.0 L958.5 573.9 L959.6 575.8 L960.8 577.7 L961.9 579.4 L963.1 581.1 L964.2 582.8 L965.4 584.5 L966.5 586.2 L967.7 587.9 L968.8 589.6 L970.0 591.3 L971.1 593.0 L972.3 594.7 L973.4 596.3 L974.6 598.0 L975.8 599.7 L976.9 601.4 L978.1 603.1 L979.2 604.7 L980.4 606.4 L981.5 608.1 L982.7 609.7 L983.8 611.4 L985.0 613.0 L986.1 614.7 L987.3 616.3 L988.4 617.9 L989.6 619.5 L990.7 621.1 L991.9 622.7 L993.1 624.3 L994.2 625.9 L995.4 627.4 L996.5 629.0 L997.7 630.5 L998.8 632.0 L1000.0 633.5 L1001.1 635.1 L1002.3 636.6 L1003.4 638.1 L1004.6 639.6 L1005.7 641.2 L1006.9 642.7 L1008.0 644.3 L1009.2 645.8 L1010.4 647.4 L1011.5 649.1 L1012.7 650.7 L1013.8 652.4 L1015.0 654.1 L1016.1 655.8 L1017.3 657.5 L1018.4 659.2 L1019.6 661.0 L1020.7 662.8 L1021.9 664.5 L1023.0 666.3 L1024.2 668.0 L1025.3 669.8 L1026.5 671.5 L1027.6 673.2 L1028.8 675.0 L1030.0 676.6 L1031.1 678.3 L1032.3 680.0 L1033.4 681.6 L1034.6 683.2 L1035.7 684.8 L1036.9 686.4 L1038.0 688.0 L1039.2 689.6 L1040.3 691.2 L1041.5 692.8 L1042.6 694.4 L1043.8 696.0 L1044.9 697.6 L1046.1 699.2 L1047.3 700.9 L1048.4 702.5 L1049.6 704.2 L1050.7 705.9 L1051.9 707.7 L1053.0 709.4 L1054.2 711.1 L1055.3 712.8 L1056.5 714.5 L1057.6 716.2 L1058.8 717.8 L1059.9 719.3 L1061.1 720.8 L1062.2 722.2 L1063.4 723.6 L1064.6 724.9 L1065.7 726.2 L1066.9 727.5 L1068.0 728.7 L1069.2 730.0 L1070.3 731.2 L1071.5 732.4 L1072.6 733.6 L1073.8 734.8 L1074.9 736.0 L1076.1 737.2 L1077.2 738.3 L1078.4 739.5 L1079.5 740.7 L1080.7 741.8 L1081.8 743.0 L1083.0 744.1 L1084.2 745.3 L1085.3 746.5 L1086.5 747.6 L1087.6 748.8 L1088.8 749.9 L1089.9 751.1 L1091.1 752.3 L1092.2 753.4 L1093.4 754.6 L1094.5 755.7 L1095.7 756.9 L1096.8 758.1 L1098.0 759.2 L1099.1 760.4 L1100.3 761.5 L1101.5 762.7 L1102.6 763.8 L1103.8 765.0 L1104.9 766.1 L1106.1 767.2 L1107.2 768.3 L1108.4 769.4 L1109.5 770.5 L1110.7 771.6 L1111.8 772.7 L1113.0 773.8 L1114.1 774.9 L1115.3 775.9 L1116.4 777.0 L1117.6 778.1 L1118.8 779.1 L1119.9 780.2 L1121.1 781.2 L1122.2 782.3 L1123.4 783.3 L1124.5 784.4 L1125.7 785.4 L1126.8 786.5 L1128.0 787.5 L1129.1 788.6 L1130.3 789.6 L1131.4 790.7 L1132.6 791.8 L1133.7 792.8 L1134.9 793.9 L1136.1 794.9 L1137.2 796.0 L1138.4 797.0 L1139.5 798.1 L1140.7 799.1 L1141.8 800.2 L1143.0 801.2 L1144.1 802.3 L1145.3 803.3 L1146.4 804.4 L1147.6 805.4 L1148.7 806.4 L1149.9 807.5 L1151.0 808.5 L1152.2 809.5 L1153.3 810.5 L1154.5 811.5 L1155.7 812.5 L1156.8 813.5 L1158.0 814.5 L1159.1 815.5 L1160.3 816.5 L1161.4 817.5 L1162.6 818.5 L1163.7 819.4 L1164.9 820.4 L1166.0 821.3 L1167.2 822.2 L1168.3 823.2 L1169.5 824.1 L1170.6 825.0 L1171.8 825.9 L1173.0 826.9 L1174.1 827.8 L1175.3 828.7 L1176.4 829.6 L1177.6 830.5 L1178.7 831.4 L1179.9 832.3 L1181.0 833.2 L1182.2 834.2 L1183.3 835.1 L1184.5 836.0 L1185.6 837.0 L1186.8 837.9 L1187.9 838.8 L1189.1 839.8 L1190.3 840.7 L1191.4 841.7 L1192.6 842.6 L1193.7 843.6 L1194.9 844.5 L1196.0 845.5 L1197.2 846.4 L1198.3 847.3 L1199.5 848.2 L1200.6 849.1 L1201.8 850.0 L1202.9 850.9 L1204.1 851.8 L1205.2 852.6 L1206.4 853.4 L1207.5 854.3 L1208.7 855.1 L1209.9 855.9 L1211.0 856.7 L1212.2 857.5 L1213.3 858.3 L1214.5 859.1 L1215.6 859.9 L1216.8 860.7 L1217.9 861.4 L1219.1 862.2 L1220.2 863.0 L1221.4 863.8 L1222.5 864.6 L1223.7 865.4 L1224.8 866.2 L1226.0 867.0 L1227.2 867.8 L1228.3 868.7 L1229.5 869.5 L1230.6 870.3 L1231.8 871.1 L1232.9 872.0 L1234.1 872.8 L1235.2 873.6 L1236.4 874.4 L1237.5 875.3 L1238.7 876.1 L1239.8 876.9 L1241.0 877.7 L1242.1 878.6 L1243.3 879.4 L1244.5 880.2 L1245.6 881.0 L1246.8 881.8 L1247.9 882.6 L1249.1 883.4 L1250.2 884.2 L1251.4 885.0 L1252.5 885.8 L1253.7 886.6 L1254.8 887.4 L1256.0 888.2 L1257.1 889.0 L1258.3 889.7 L1259.4 890.5 L1260.6 891.3 L1261.7 892.1 L1262.9 892.9 L1264.1 893.7 L1265.2 894.4 L1266.4 895.2 L1267.5 896.0 L1268.7 896.8 L1269.8 897.6 L1271.0 898.3 L1272.1 899.1 L1273.3 899.9 L1274.4 900.6 L1275.6 901.4 L1276.7 902.2 L1277.9 902.9 L1279.0 903.7 L1280.2 904.5 L1281.4 905.2 L1282.5 906.0 L1283.7 906.7 L1284.8 907.4 L1286.0 908.2 L1287.1 908.9 L1288.3 909.6" stroke="#46aac5"/></g>
<text class="r" x="91.3" y="1122.8" font-size="36.5" text-anchor="end" textLength="22" lengthAdjust="spacingAndGlyphs">0</text>
<text class="r" x="91.4" y="985.8" font-size="36.5" text-anchor="end" textLength="42.4" lengthAdjust="spacingAndGlyphs">10</text>
<text class="r" x="91.4" y="848.8" font-size="36.5" text-anchor="end" textLength="42.4" lengthAdjust="spacingAndGlyphs">20</text>
<text class="r" x="91.4" y="711.8" font-size="36.5" text-anchor="end" textLength="42.4" lengthAdjust="spacingAndGlyphs">30</text>
<text class="r" x="91.4" y="574.8" font-size="36.5" text-anchor="end" textLength="42.4" lengthAdjust="spacingAndGlyphs">40</text>
<text class="r" x="91.4" y="437.8" font-size="36.5" text-anchor="end" textLength="42.4" lengthAdjust="spacingAndGlyphs">50</text>
<text class="r" x="91.4" y="300.8" font-size="36.5" text-anchor="end" textLength="42.4" lengthAdjust="spacingAndGlyphs">60</text>
<text class="r" x="91.4" y="163.8" font-size="36.5" text-anchor="end" textLength="42.4" lengthAdjust="spacingAndGlyphs">70</text>
<text class="r" x="91.4" y="26.8" font-size="36.5" text-anchor="end" textLength="42.4" lengthAdjust="spacingAndGlyphs">80</text>
<text class="r" x="127.5" y="1174.5" font-size="36.5" text-anchor="middle" textLength="62.4" lengthAdjust="spacingAndGlyphs">340</text>
<text class="r" x="319.4" y="1174.5" font-size="36.5" text-anchor="middle" textLength="62.4" lengthAdjust="spacingAndGlyphs">350</text>
<text class="r" x="511.4" y="1174.5" font-size="36.5" text-anchor="middle" textLength="62.4" lengthAdjust="spacingAndGlyphs">360</text>
<text class="r" x="703.3" y="1174.5" font-size="36.5" text-anchor="middle" textLength="62.4" lengthAdjust="spacingAndGlyphs">370</text>
<text class="r" x="895.2" y="1174.5" font-size="36.5" text-anchor="middle" textLength="62.4" lengthAdjust="spacingAndGlyphs">380</text>
<text class="r" x="1087.2" y="1174.5" font-size="36.5" text-anchor="middle" textLength="62.4" lengthAdjust="spacingAndGlyphs">390</text>
<text class="r" x="1279.1" y="1174.5" font-size="36.5" text-anchor="middle" textLength="62.4" lengthAdjust="spacingAndGlyphs">400</text>
<text x="703.2" y="1224.2" font-size="36" font-weight="bold" text-anchor="middle" textLength="334" lengthAdjust="spacingAndGlyphs">Crank angle, Degree</text>
<text transform="translate(27.5 561.5) rotate(-90)" font-size="36" font-weight="bold" text-anchor="middle" textLength="363.5" lengthAdjust="spacingAndGlyphs">Cylinder pressure, bar</text>
<line x1="1323.1" y1="398.90" x2="1399.7" y2="398.90" stroke="#4a7ebb" stroke-width="6.2" stroke-linecap="round"/>
<text class="r" x="1407.8" y="410.4" font-size="35.5" textLength="98.4" lengthAdjust="spacingAndGlyphs">Diesel</text>
<line x1="1323.1" y1="489.35" x2="1399.7" y2="489.35" stroke="#be4b48" stroke-width="6.2" stroke-linecap="round"/>
<text class="r" x="1407.8" y="500.9" font-size="35.5" textLength="62.3" lengthAdjust="spacingAndGlyphs">B20</text>
<line x1="1323.1" y1="580.20" x2="1399.7" y2="580.20" stroke="#98b954" stroke-width="6.2" stroke-linecap="round"/>
<text class="r" x="1407.8" y="591.7" font-size="35.5" textLength="225.3" lengthAdjust="spacingAndGlyphs">B20 + 25 TiO2</text>
<line x1="1323.1" y1="670.60" x2="1399.7" y2="670.60" stroke="#7d60a0" stroke-width="6.2" stroke-linecap="round"/>
<text class="r" x="1407.8" y="682.1" font-size="35.5" textLength="249.3" lengthAdjust="spacingAndGlyphs">B20 + 25 Al2O3</text>
</svg></body></html>
